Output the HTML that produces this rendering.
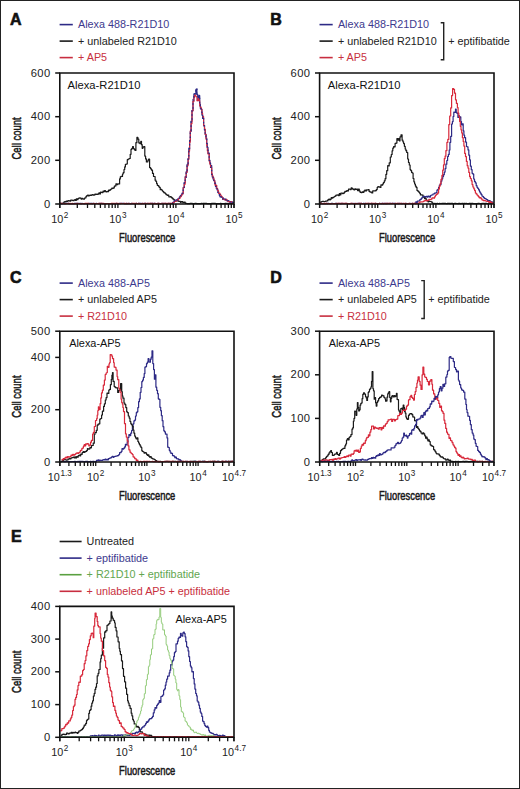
<!DOCTYPE html>
<html><head><meta charset="utf-8"><title>Figure</title><style>
html,body{margin:0;padding:0;background:#fff;width:520px;height:789px;overflow:hidden;}
svg{display:block;}
text{font-family:"Liberation Sans",sans-serif;}
</style></head><body>
<svg width="520" height="789" viewBox="0 0 520 789">
<rect x="0.5" y="0.5" width="519" height="788" fill="#fff" stroke="#222" stroke-width="1"/>
<path d="M60.0,203.4H60.8V203.4H61.5V203.6H62.3V203.3H63.0V203.5H63.8V202.1H64.6V201.6H65.3V201.9H66.1V201.2H66.9V201.4H67.6V200.8H68.4V200.6H69.2V200.9H70.0V201.2H70.7V200.1H71.5V200.0H72.3V200.4H73.1V200.7H73.9V200.1H74.7V199.7H75.5V200.4H76.3V198.8H77.1V199.7H77.9V198.6H78.7V198.1H79.5V197.8H80.3V198.2H81.1V199.1H82.0V198.3H82.8V199.0H83.6V199.2H84.4V198.1H85.2V197.8H86.0V196.3H86.8V195.6H87.6V195.2H88.4V195.9H89.2V195.3H90.0V195.0H90.8V195.3H91.6V194.9H92.4V194.5H93.2V195.2H94.1V194.9H94.9V194.0H95.7V194.4H96.5V194.1H97.3V194.5H98.1V193.9H98.9V192.9H99.7V193.9H100.5V192.0H101.3V192.3H102.2V192.6H103.0V191.2H103.8V191.6H104.6V190.6H105.4V191.7H106.2V191.8H107.0V191.3H107.8V191.7H108.6V190.1H109.4V190.3H110.2V189.6H111.0V189.0H111.8V188.2H112.6V188.3H113.4V187.9H114.3V186.2H115.1V185.9H115.9V183.9H116.8V184.7H117.7V183.9H118.6V184.0H119.6V178.9H120.3V176.8H121.0V176.4H121.8V176.4H122.5V174.0H123.2V172.7H124.0V169.5H124.7V166.9H125.4V164.3H126.3V164.0H127.3V159.7H128.2V159.0H129.2V158.5H130.2V154.3H131.0V149.4H131.8V148.4H132.6V146.5H133.4V148.6H134.2V149.3H135.0V150.4H135.9V142.7H136.9V137.4H137.9V139.1H138.8V142.9H139.8V143.6H140.8V141.3H141.5V144.7H142.2V148.3H142.9V147.1H143.7V146.7H144.8V156.1H145.6V158.9H146.4V162.0H147.1V161.8H147.9V160.1H148.6V159.2H149.6V167.6H150.6V168.8H151.5V170.2H152.5V173.4H153.5V176.5H154.3V176.5H155.1V180.2H155.9V181.5H156.6V183.6H157.3V185.3H158.0V185.6H158.8V186.8H159.5V187.4H160.2V189.7H160.9V189.3H161.6V190.0H162.4V191.0H163.1V191.7H163.8V192.7H164.6V192.9H165.3V193.6H166.0V194.6H166.7V194.8H167.4V195.5H168.1V195.2H168.8V196.8H169.5V196.9H170.2V196.6H171.0V197.2H171.7V197.9H172.7V198.9H173.7V199.5H174.4V200.7H175.1V201.1H175.8V200.7H176.5V201.0H177.3V200.7H178.1V200.9H178.8V201.4H179.6V201.4H180.4V202.3H181.2V201.6H182.0V201.6H182.8V202.7H183.6V202.3H184.4V202.0H185.2V203.5H186.0V203.3H186.8V203.5H187.6V203.7H188.4V203.6H189.2V203.6H190.0V203.4H190.8V203.4H191.6V203.4H192.4V203.6H193.2V203.5H194.0V203.6H194.8V203.4H195.6V203.4H196.4V203.6H197.2V203.7H198.0V203.6H198.8V203.6H199.6V203.6H200.4V203.6H201.1V203.4H201.9V203.5H202.7V203.4H203.5V203.3H204.3V203.3H205.1V203.4H205.9V203.4H206.7V203.6H207.5V203.7H208.3V203.5H209.1V203.7H209.9V203.7H210.7V203.7H211.5V203.4H212.3V203.4H213.1V203.4H213.9V203.4H214.7V203.4H215.5V203.5H216.3V203.7H217.1V203.6H217.9V203.5H218.7V203.6H219.5V203.6H220.3V203.3H221.1V203.6H221.9V203.7H222.6V203.6H223.4V203.6H224.2V203.5H225.0V203.4H225.8V203.6H226.6V203.4H227.4V203.6H228.2V203.7H229.0V203.5H229.8V203.5H230.6V203.7H231.4V203.6H232.2V203.4H233.0V203.4" fill="none" stroke="#1a1a1a" stroke-width="1.20" stroke-linejoin="round"/>
<path d="M60.0,203.4H60.8V203.7H61.6V203.6H62.4V203.4H63.2V203.6H64.0V203.7H64.8V203.6H65.6V203.4H66.4V203.5H67.2V203.4H68.0V203.3H68.8V203.7H69.6V203.6H70.4V203.5H71.2V203.7H72.0V203.5H72.8V203.6H73.6V203.6H74.4V203.4H75.2V203.4H76.0V203.4H76.8V203.4H77.6V203.5H78.4V203.4H79.2V203.5H80.0V203.4H80.8V203.7H81.6V203.4H82.4V203.5H83.2V203.5H84.0V203.7H84.8V203.5H85.6V203.7H86.4V203.5H87.2V203.5H88.0V203.5H88.8V203.3H89.6V203.5H90.4V203.4H91.2V203.3H92.0V203.6H92.8V203.4H93.6V203.5H94.4V203.6H95.2V203.5H96.0V203.4H96.8V203.5H97.6V203.5H98.4V203.6H99.2V203.3H100.0V203.5H100.8V203.4H101.6V203.4H102.4V203.6H103.2V203.5H104.0V203.5H104.8V203.6H105.6V203.7H106.4V203.5H107.2V203.5H108.0V203.5H108.8V203.5H109.6V203.6H110.4V203.5H111.2V203.5H112.0V203.5H112.8V203.7H113.6V203.6H114.4V203.7H115.2V203.7H116.0V203.4H116.8V203.5H117.6V203.7H118.4V203.6H119.2V203.4H120.0V203.3H120.8V203.5H121.6V203.3H122.4V203.4H123.2V203.3H124.0V203.6H124.8V203.6H125.6V203.7H126.4V203.4H127.2V203.6H128.0V203.6H128.8V203.4H129.6V203.7H130.4V203.7H131.2V203.4H132.0V203.7H132.8V203.5H133.6V203.5H134.4V203.7H135.2V203.6H136.0V203.4H136.8V203.5H137.6V203.5H138.4V203.4H139.2V203.4H140.0V203.4H140.8V203.6H141.6V203.3H142.4V203.5H143.2V203.5H144.0V203.3H144.8V203.4H145.6V203.5H146.4V203.5H147.2V203.3H148.0V203.7H148.8V203.6H149.6V203.7H150.4V203.3H151.2V203.4H152.0V203.3H152.8V203.6H153.6V203.4H154.4V203.4H155.2V203.5H156.0V203.7H156.8V203.6H157.6V203.4H158.4V203.4H159.2V203.7H160.0V203.5H160.8V203.6H161.6V203.3H162.4V203.3H163.2V203.6H164.0V203.5H164.8V203.3H165.6V203.7H166.4V203.6H167.2V203.6H168.0V203.3H168.8V203.6H169.6V203.3H170.4V203.6H171.2V203.5H172.0V203.4H172.8V202.4H173.7V202.0H174.5V200.8H175.3V200.2H176.1V200.3H176.9V199.5H177.7V198.9H178.5V198.5H179.3V197.2H180.0V196.2H180.8V195.3H181.5V194.1H182.3V193.8H183.2V187.6H184.2V182.7H185.2V176.6H186.2V171.7H187.1V164.4H188.1V158.8H188.8V148.2H189.6V140.8H190.3V131.4H191.1V121.2H192.0V110.7H193.0V101.0H193.9V93.9H194.9V93.9H195.9V89.4H196.9V94.5H197.8V100.6H198.5V97.0H199.2V95.5H199.7V104.0H200.4V108.5H201.2V109.3H201.9V115.1H202.6V118.4H203.6V125.8H204.5V129.7H205.2V134.3H206.0V138.1H206.7V143.7H207.3V147.4H208.0V153.4H209.2V160.2H209.8V162.9H210.5V165.6H211.7V174.4H212.3V177.0H213.0V178.9H213.8V180.5H214.7V182.9H215.5V185.5H216.3V188.4H217.2V189.9H218.0V192.6H218.7V193.4H219.4V195.8H220.1V196.9H220.9V197.0H221.8V197.4H222.6V199.3H223.4V198.8H224.3V199.2H225.2V199.2H226.0V200.1H226.8V200.7H227.7V201.1H228.5V201.1H229.3V201.9H230.0V201.5H230.8V201.9H231.5V201.8H232.3V202.3H233.0V203.3" fill="none" stroke="#2d2a86" stroke-width="1.20" stroke-linejoin="round"/>
<path d="M60.0,203.3H60.8V203.4H61.6V203.4H62.4V203.5H63.2V203.5H64.0V203.6H64.8V203.6H65.6V203.6H66.4V203.7H67.2V203.5H68.0V203.4H68.8V203.7H69.6V203.4H70.4V203.6H71.2V203.6H72.0V203.3H72.8V203.6H73.6V203.7H74.4V203.6H75.2V203.6H76.0V203.6H76.8V203.4H77.6V203.5H78.4V203.5H79.2V203.6H80.0V203.6H80.8V203.6H81.6V203.5H82.4V203.7H83.2V203.6H84.0V203.6H84.8V203.4H85.6V203.3H86.4V203.4H87.2V203.4H88.0V203.3H88.8V203.6H89.6V203.5H90.4V203.6H91.2V203.6H92.0V203.6H92.8V203.5H93.6V203.3H94.4V203.6H95.2V203.6H96.0V203.5H96.8V203.5H97.6V203.6H98.4V203.3H99.2V203.6H100.0V203.4H100.8V203.3H101.6V203.4H102.4V203.6H103.2V203.4H104.0V203.6H104.8V203.7H105.6V203.5H106.4V203.5H107.2V203.5H108.0V203.6H108.8V203.6H109.6V203.5H110.4V203.6H111.2V203.3H112.0V203.4H112.8V203.4H113.6V203.6H114.4V203.4H115.2V203.5H116.0V203.3H116.8V203.3H117.6V203.4H118.4V203.6H119.2V203.6H120.0V203.6H120.8V203.4H121.6V203.5H122.4V203.5H123.2V203.5H124.0V203.3H124.8V203.7H125.6V203.4H126.4V203.7H127.2V203.7H128.0V203.3H128.8V203.5H129.6V203.6H130.4V203.7H131.2V203.5H132.0V203.4H132.8V203.4H133.6V203.7H134.4V203.4H135.2V203.5H136.0V203.4H136.8V203.5H137.6V203.7H138.4V203.4H139.2V203.6H140.0V203.5H140.8V203.7H141.6V203.6H142.4V203.4H143.2V203.7H144.0V203.5H144.8V203.3H145.6V203.3H146.4V203.5H147.2V203.5H148.0V203.4H148.8V203.4H149.6V203.4H150.4V203.4H151.2V203.6H152.0V203.3H152.8V203.6H153.6V203.6H154.4V203.3H155.2V203.7H156.0V203.6H156.8V203.7H157.6V203.4H158.4V203.4H159.2V203.5H160.0V203.7H160.8V203.5H161.6V203.4H162.4V203.5H163.2V203.4H164.0V203.3H164.8V203.3H165.6V203.6H166.4V203.4H167.2V203.7H168.0V203.4H168.8V203.4H169.6V203.5H170.4V203.4H171.2V203.4H172.0V203.7H172.8V202.8H173.7V202.0H174.5V201.4H175.3V201.3H176.1V201.0H176.9V200.1H177.7V199.9H178.5V198.6H179.3V198.4H180.0V196.9H180.8V196.3H181.5V195.0H182.3V193.2H183.2V187.5H184.2V184.2H185.2V177.0H186.2V172.5H187.1V165.8H188.1V159.4H188.8V151.0H189.6V142.2H190.3V130.8H191.1V123.6H192.0V110.7H193.0V101.2H193.9V97.1H194.6V94.9H195.3V95.7H196.0V96.8H196.9V100.8H197.8V100.3H198.5V98.5H199.2V100.6H199.7V106.0H200.4V107.0H201.2V109.1H201.9V113.1H202.6V116.6H203.6V125.2H204.5V129.0H205.2V134.4H206.0V139.3H206.7V145.7H207.3V150.7H208.0V154.0H209.2V161.1H209.8V164.1H210.5V167.4H211.7V173.5H212.3V175.9H213.0V177.7H213.9V180.8H214.9V184.9H215.9V185.4H216.8V188.6H217.7V190.9H218.6V193.4H219.3V193.3H220.1V194.6H220.8V195.7H221.6V196.8H222.4V197.7H223.2V199.3H224.0V199.5H224.8V200.0H225.7V199.3H226.5V199.8H227.3V201.0H228.2V201.6H229.0V201.5H229.8V202.0H230.6V201.5H231.4V202.1H232.2V202.8H233.0V203.6" fill="none" stroke="#d8283a" stroke-width="1.10" stroke-linejoin="round"/>
<path d="M172.0,203.6H172.8V202.9H173.7V201.2H174.5V200.6H175.3V200.2H176.1V200.3H176.9V200.1H177.7V200.0H178.5V199.3H179.3V198.1H180.0V197.1H180.8V195.5H181.5V194.5H182.3V192.5H183.2V188.6H184.2V182.1H185.2V178.5H186.2V172.5H187.1V165.3H188.1V158.5H188.8V149.0H189.6V140.5H190.3V132.0H191.1V120.9H192.0V109.1H193.0V99.4H193.9V95.8H194.9V92.2H195.9V88.6H196.9V94.9H197.8V97.3H198.5V96.6H199.2V95.3H199.7V105.0H200.4V107.1H201.2V111.4H201.9V113.7H202.6V116.5H203.6V124.3H204.5V131.9H205.2V135.7H206.0V139.0H206.7V143.3H207.3V148.8H208.0V153.2H209.2V160.7H209.8V163.1H210.5V167.3H211.7V174.6H212.3V175.3H213.0V177.3H213.8V180.6H214.7V183.3H215.5V186.4H216.3V187.9H217.2V191.2H218.0V193.1H218.7V193.8H219.4V194.5H220.1V196.9H220.9V196.6H221.8V198.3H222.6V198.2H223.4V198.6H224.3V199.8H225.2V199.6H226.0V200.9H226.8V200.7H227.7V200.7H228.5V201.2H229.3V201.8H230.0V202.2H230.8V202.6H231.5V201.9H232.3V202.3H233.0V203.4" fill="none" stroke="#2d2a86" stroke-width="1.20" stroke-linejoin="round" stroke-dasharray="1.6 2.4"/>
<path d="M59.8,73.0 H234.0 V204.0 H59.8 Z" fill="none" stroke="#111" stroke-width="1.6"/>
<line x1="55.2" y1="204.0" x2="59.8" y2="204.0" stroke="#111" stroke-width="1.5"/>
<text x="50.6" y="207.5" font-size="11.2" text-anchor="end" letter-spacing="0.4" fill="#222">0</text>
<line x1="55.2" y1="160.3" x2="59.8" y2="160.3" stroke="#111" stroke-width="1.5"/>
<text x="50.6" y="163.8" font-size="11.2" text-anchor="end" letter-spacing="0.4" fill="#222">200</text>
<line x1="55.2" y1="116.7" x2="59.8" y2="116.7" stroke="#111" stroke-width="1.5"/>
<text x="50.6" y="120.2" font-size="11.2" text-anchor="end" letter-spacing="0.4" fill="#222">400</text>
<line x1="55.2" y1="73.0" x2="59.8" y2="73.0" stroke="#111" stroke-width="1.5"/>
<text x="50.6" y="76.5" font-size="11.2" text-anchor="end" letter-spacing="0.4" fill="#222">600</text>
<line x1="59.8" y1="204.0" x2="59.8" y2="208.0" stroke="#111" stroke-width="1.3"/>
<line x1="77.3" y1="204.0" x2="77.3" y2="208.0" stroke="#111" stroke-width="1.3"/>
<line x1="87.5" y1="204.0" x2="87.5" y2="208.0" stroke="#111" stroke-width="1.3"/>
<line x1="94.8" y1="204.0" x2="94.8" y2="208.0" stroke="#111" stroke-width="1.3"/>
<line x1="100.4" y1="204.0" x2="100.4" y2="208.0" stroke="#111" stroke-width="1.3"/>
<line x1="105.0" y1="204.0" x2="105.0" y2="208.0" stroke="#111" stroke-width="1.3"/>
<line x1="108.9" y1="204.0" x2="108.9" y2="208.0" stroke="#111" stroke-width="1.3"/>
<line x1="112.2" y1="204.0" x2="112.2" y2="208.0" stroke="#111" stroke-width="1.3"/>
<line x1="115.2" y1="204.0" x2="115.2" y2="208.0" stroke="#111" stroke-width="1.3"/>
<line x1="117.9" y1="204.0" x2="117.9" y2="208.0" stroke="#111" stroke-width="1.3"/>
<line x1="135.3" y1="204.0" x2="135.3" y2="208.0" stroke="#111" stroke-width="1.3"/>
<line x1="145.6" y1="204.0" x2="145.6" y2="208.0" stroke="#111" stroke-width="1.3"/>
<line x1="152.8" y1="204.0" x2="152.8" y2="208.0" stroke="#111" stroke-width="1.3"/>
<line x1="158.5" y1="204.0" x2="158.5" y2="208.0" stroke="#111" stroke-width="1.3"/>
<line x1="163.1" y1="204.0" x2="163.1" y2="208.0" stroke="#111" stroke-width="1.3"/>
<line x1="166.9" y1="204.0" x2="166.9" y2="208.0" stroke="#111" stroke-width="1.3"/>
<line x1="170.3" y1="204.0" x2="170.3" y2="208.0" stroke="#111" stroke-width="1.3"/>
<line x1="173.3" y1="204.0" x2="173.3" y2="208.0" stroke="#111" stroke-width="1.3"/>
<line x1="175.9" y1="204.0" x2="175.9" y2="208.0" stroke="#111" stroke-width="1.3"/>
<line x1="193.4" y1="204.0" x2="193.4" y2="208.0" stroke="#111" stroke-width="1.3"/>
<line x1="203.6" y1="204.0" x2="203.6" y2="208.0" stroke="#111" stroke-width="1.3"/>
<line x1="210.9" y1="204.0" x2="210.9" y2="208.0" stroke="#111" stroke-width="1.3"/>
<line x1="216.5" y1="204.0" x2="216.5" y2="208.0" stroke="#111" stroke-width="1.3"/>
<line x1="221.1" y1="204.0" x2="221.1" y2="208.0" stroke="#111" stroke-width="1.3"/>
<line x1="225.0" y1="204.0" x2="225.0" y2="208.0" stroke="#111" stroke-width="1.3"/>
<line x1="228.4" y1="204.0" x2="228.4" y2="208.0" stroke="#111" stroke-width="1.3"/>
<line x1="231.3" y1="204.0" x2="231.3" y2="208.0" stroke="#111" stroke-width="1.3"/>
<line x1="234.0" y1="204.0" x2="234.0" y2="208.0" stroke="#111" stroke-width="1.3"/>
<line x1="59.8" y1="204.0" x2="59.8" y2="208.0" stroke="#111" stroke-width="1.3"/>
<line x1="234.0" y1="204.0" x2="234.0" y2="208.0" stroke="#111" stroke-width="1.3"/>
<text x="59.8" y="222.5" font-size="10.8" text-anchor="middle" fill="#222">10<tspan dx="0.6" dy="-4.4" font-size="8.2">2</tspan></text>
<text x="117.9" y="222.5" font-size="10.8" text-anchor="middle" fill="#222">10<tspan dx="0.6" dy="-4.4" font-size="8.2">3</tspan></text>
<text x="175.9" y="222.5" font-size="10.8" text-anchor="middle" fill="#222">10<tspan dx="0.6" dy="-4.4" font-size="8.2">4</tspan></text>
<text x="234.0" y="222.5" font-size="10.8" text-anchor="middle" fill="#222">10<tspan dx="0.6" dy="-4.4" font-size="8.2">5</tspan></text>
<text transform="translate(147.2,242.1) scale(0.71,1)" font-size="13.2" text-anchor="middle" fill="#1a1a1a" stroke="#1a1a1a" stroke-width="0.55">Fluorescence</text>
<text transform="translate(20.9,138.5) rotate(-90) scale(0.72,1)" font-size="13.2" text-anchor="middle" fill="#1a1a1a" stroke="#1a1a1a" stroke-width="0.55">Cell count</text>
<path d="M320.0,203.7H320.7V201.9H321.5V201.5H322.3V201.3H323.1V201.4H323.9V201.7H324.7V201.5H325.5V201.0H326.3V201.1H327.2V200.7H328.0V199.6H328.8V199.2H329.6V199.8H330.4V199.2H331.2V197.7H332.0V198.2H332.8V197.4H333.6V197.0H334.4V196.5H335.2V195.9H336.0V195.2H336.8V195.2H337.6V194.9H338.4V195.6H339.3V193.7H340.1V194.8H340.9V193.1H341.7V193.1H342.5V193.6H343.3V193.4H344.1V192.4H344.9V191.4H345.8V191.5H346.7V190.6H347.6V191.0H348.5V189.1H349.4V189.0H350.3V189.6H351.2V187.8H352.1V188.6H353.0V189.4H353.9V189.8H354.8V188.8H355.7V189.3H356.6V189.1H357.5V190.6H358.4V189.0H359.3V191.1H360.2V192.5H361.1V192.6H362.0V191.8H362.9V192.4H363.8V191.1H364.7V190.2H365.6V190.9H366.5V189.8H367.4V190.0H368.2V189.7H369.1V191.4H370.0V192.1H370.9V192.0H371.8V193.0H372.7V190.9H373.6V190.8H374.5V190.9H375.4V190.7H376.3V189.6H377.2V187.3H377.9V186.7H378.6V186.9H379.3V186.8H380.0V187.5H380.9V184.9H381.7V185.2H382.6V184.0H383.4V182.6H384.3V180.8H385.1V178.7H385.9V174.3H386.7V170.7H387.7V165.7H388.4V165.9H389.2V162.8H390.3V157.0H391.3V154.5H392.1V150.8H392.8V148.1H393.6V146.5H394.4V146.8H395.1V143.4H395.9V143.1H396.9V138.7H397.7V140.1H398.5V138.6H399.5V141.0H400.0V136.8H401.0V134.8H402.1V140.2H402.9V141.8H403.6V143.6H404.4V146.3H405.2V149.0H405.9V150.7H406.7V152.5H407.7V159.0H408.5V162.5H409.3V165.0H410.1V169.6H410.8V170.6H411.6V172.4H412.3V173.0H413.1V178.5H413.9V181.8H414.6V184.0H415.4V186.1H416.2V187.4H417.0V190.5H418.0V191.4H419.0V192.5H419.7V193.3H420.4V195.0H421.1V194.8H422.1V195.1H423.1V196.9H423.8V197.3H424.5V198.6H425.2V197.9H425.9V199.2H426.6V200.3H427.3V201.0H428.0V201.8H428.8V201.0H429.6V201.5H430.4V201.5H431.2V201.8H432.1V202.8H432.9V203.5H433.7V203.7H434.5V203.4H435.3V203.6H436.1V203.5H436.9V203.4H437.7V203.6H438.5V203.7H439.3V203.3H440.1V203.5H440.9V203.5H441.7V203.4H442.5V203.4H443.3V203.4H444.1V203.4H444.9V203.4H445.7V203.5H446.5V203.6H447.3V203.4H448.1V203.3H448.9V203.4H449.7V203.6H450.5V203.4H451.3V203.4H452.1V203.4H452.9V203.6H453.7V203.5H454.5V203.3H455.3V203.3H456.1V203.5H456.9V203.5H457.7V203.6H458.5V203.3H459.3V203.4H460.1V203.6H460.9V203.5H461.7V203.4H462.5V203.4H463.3V203.7H464.2V203.4H465.0V203.5H465.8V203.4H466.6V203.5H467.4V203.6H468.2V203.7H469.0V203.4H469.8V203.4H470.6V203.6H471.4V203.4H472.2V203.3H473.0V203.7H473.8V203.5H474.6V203.6H475.4V203.5H476.2V203.7H477.0V203.5H477.8V203.4H478.6V203.3H479.4V203.5H480.2V203.6H481.0V203.7H481.8V203.3H482.6V203.5H483.4V203.4H484.2V203.5H485.0V203.4H485.8V203.4H486.6V203.5H487.4V203.7H488.2V203.3H489.0V203.5H489.8V203.6H490.6V203.7H491.4V203.4H492.2V203.4H493.0V203.7" fill="none" stroke="#1a1a1a" stroke-width="1.20" stroke-linejoin="round"/>
<path d="M320.0,203.7H320.8V203.5H321.6V203.3H322.4V203.7H323.2V203.5H324.0V203.7H324.8V203.5H325.6V203.6H326.4V203.4H327.2V203.6H328.0V203.4H328.8V203.5H329.6V203.6H330.4V203.6H331.2V203.4H332.0V203.4H332.8V203.5H333.6V203.5H334.4V203.5H335.2V203.3H336.0V203.4H336.8V203.6H337.6V203.7H338.4V203.3H339.2V203.5H340.0V203.6H340.8V203.3H341.6V203.6H342.4V203.3H343.2V203.5H344.0V203.5H344.8V203.6H345.6V203.4H346.4V203.5H347.2V203.5H348.0V203.5H348.8V203.6H349.6V203.5H350.4V203.5H351.2V203.3H352.0V203.5H352.8V203.5H353.6V203.4H354.4V203.6H355.2V203.6H356.0V203.5H356.8V203.4H357.6V203.5H358.4V203.3H359.2V203.4H360.0V203.5H360.8V203.3H361.6V203.5H362.4V203.5H363.2V203.3H364.0V203.6H364.8V203.3H365.6V203.6H366.4V203.6H367.2V203.5H368.0V203.3H368.8V203.5H369.6V203.5H370.4V203.7H371.2V203.4H372.0V203.6H372.8V203.7H373.6V203.6H374.4V203.6H375.2V203.4H376.0V203.7H376.8V203.5H377.6V203.7H378.4V203.7H379.2V203.4H380.0V203.6H380.8V203.7H381.6V203.3H382.4V203.4H383.2V203.6H384.0V203.4H384.8V203.7H385.6V203.4H386.4V203.6H387.2V203.4H388.0V203.5H388.8V203.7H389.6V203.4H390.4V203.4H391.2V203.5H392.0V203.4H392.8V203.3H393.6V203.4H394.4V203.4H395.2V203.7H396.0V203.6H396.8V203.7H397.6V203.4H398.4V203.6H399.2V203.3H400.0V203.5H400.8V203.6H401.6V203.4H402.4V203.6H403.2V203.5H404.0V203.5H404.8V203.7H405.6V203.3H406.4V203.7H407.2V203.6H408.0V203.5H408.8V203.6H409.6V203.4H410.4V203.7H411.2V203.5H412.0V203.4H412.8V203.6H413.5V203.5H414.2V203.4H415.0V203.6H415.8V201.8H416.5V202.5H417.3V201.2H418.1V201.0H419.0V200.9H419.8V199.7H420.6V199.2H421.5V198.1H422.3V197.0H423.1V196.5H423.9V196.4H424.7V197.0H425.5V196.5H426.3V196.4H427.1V197.2H428.0V196.1H428.8V196.3H429.6V197.1H430.4V195.6H431.2V195.0H432.1V195.0H432.9V194.0H433.7V193.8H434.5V193.0H435.3V193.1H436.1V192.5H436.9V190.1H437.8V189.3H438.6V187.4H439.4V185.0H440.2V184.7H441.0V181.1H441.9V178.8H442.7V176.6H443.5V174.7H444.3V172.1H445.1V168.6H445.9V164.2H446.8V160.5H447.6V156.5H448.4V154.4H449.2V150.0H449.9V142.3H450.7V136.3H451.6V124.0H452.4V121.6H453.1V116.5H453.8V112.2H454.5V112.4H455.5V109.0H456.2V112.4H456.9V113.3H457.9V117.5H458.6V115.7H459.3V117.6H460.1V116.9H460.8V121.5H461.5V125.0H462.2V123.8H463.2V130.8H463.9V135.2H464.6V137.7H465.6V142.1H466.5V146.5H467.2V146.8H468.0V149.9H468.8V155.2H469.6V159.8H470.4V166.2H471.3V169.7H472.1V173.3H472.9V174.1H473.7V179.0H474.5V181.4H475.3V182.9H476.2V185.7H477.0V187.3H477.8V188.5H478.6V189.9H479.5V191.8H480.3V193.1H481.1V194.4H481.9V196.0H482.8V196.7H483.6V197.7H484.4V198.3H485.2V198.5H486.0V199.3H486.8V199.5H487.6V200.4H488.4V200.5H489.3V200.6H490.1V201.4H490.9V202.2H491.7V201.8H492.4V202.7H493.0V203.3" fill="none" stroke="#2d2a86" stroke-width="1.20" stroke-linejoin="round"/>
<path d="M320.0,203.4H320.8V203.4H321.6V203.6H322.4V203.7H323.2V203.6H324.0V203.4H324.8V203.7H325.6V203.4H326.4V203.4H327.2V203.7H328.0V203.6H328.8V203.6H329.6V203.6H330.4V203.7H331.2V203.5H332.0V203.6H332.8V203.6H333.6V203.6H334.4V203.5H335.2V203.6H336.0V203.5H336.8V203.4H337.6V203.4H338.4V203.5H339.2V203.3H340.0V203.7H340.8V203.4H341.6V203.3H342.4V203.3H343.2V203.7H344.0V203.4H344.8V203.4H345.6V203.3H346.4V203.3H347.2V203.6H348.0V203.6H348.8V203.6H349.6V203.6H350.4V203.3H351.2V203.5H352.0V203.4H352.8V203.6H353.6V203.6H354.4V203.7H355.2V203.3H356.0V203.6H356.8V203.7H357.6V203.7H358.4V203.3H359.2V203.4H360.0V203.3H360.8V203.3H361.6V203.6H362.4V203.6H363.2V203.6H364.0V203.6H364.8V203.6H365.6V203.4H366.4V203.3H367.2V203.3H368.0V203.6H368.8V203.4H369.6V203.4H370.4V203.5H371.2V203.3H372.0V203.4H372.8V203.4H373.6V203.6H374.4V203.4H375.2V203.4H376.0V203.7H376.8V203.5H377.6V203.6H378.4V203.5H379.2V203.3H380.0V203.5H380.8V203.5H381.6V203.6H382.4V203.4H383.2V203.6H384.0V203.5H384.8V203.4H385.6V203.6H386.4V203.3H387.2V203.6H388.0V203.4H388.8V203.3H389.6V203.4H390.4V203.6H391.2V203.7H392.0V203.3H392.8V203.5H393.6V203.5H394.4V203.6H395.2V203.4H396.0V203.5H396.8V203.4H397.6V203.6H398.4V203.4H399.2V203.7H400.0V203.4H400.8V203.4H401.6V203.6H402.4V203.5H403.2V203.3H404.0V203.6H404.8V203.3H405.6V203.6H406.4V203.6H407.2V203.6H408.0V203.6H408.8V203.4H409.6V203.5H410.4V203.5H411.2V203.7H412.0V203.3H412.8V203.7H413.5V203.3H414.2V203.4H415.0V203.4H415.8V203.7H416.5V203.5H417.3V203.5H418.1V203.7H419.0V202.0H419.8V202.1H420.6V201.9H421.5V202.0H422.3V201.8H423.1V201.5H423.9V200.9H424.7V200.7H425.5V200.2H426.4V200.9H427.2V200.5H428.0V200.4H428.8V199.4H429.6V199.5H430.4V199.6H431.2V198.9H432.1V197.8H432.9V197.9H433.7V198.2H434.5V196.8H435.3V195.5H436.1V194.4H437.0V193.9H437.8V192.9H438.6V188.9H439.4V186.1H440.2V183.5H441.0V179.3H441.9V175.4H442.7V170.1H443.5V164.8H444.3V158.6H445.1V156.2H445.9V150.6H446.9V142.4H447.8V139.4H448.8V124.6H449.7V116.0H450.7V107.9H451.6V95.6H452.6V88.6H453.6V89.3H454.5V93.2H455.5V99.8H456.4V103.4H457.4V107.6H458.1V113.2H458.8V116.6H459.6V121.4H460.3V126.3H461.0V129.8H461.7V132.9H462.4V137.7H463.2V141.4H463.9V146.1H464.7V153.4H465.5V156.6H466.4V161.4H467.2V165.7H468.0V168.1H468.8V172.4H469.6V176.6H470.4V178.5H471.3V180.8H472.1V184.6H472.9V187.0H473.8V188.8H474.6V190.6H475.4V193.0H476.2V193.9H477.0V195.0H477.8V195.9H478.6V196.9H479.4V197.9H480.2V197.7H481.1V198.7H481.9V199.8H482.7V200.2H483.5V200.7H484.3V200.4H485.1V200.8H486.0V201.0H486.8V201.4H487.6V201.4H488.5V201.9H489.3V202.4H490.1V201.7H490.8V202.4H491.6V202.7H492.3V203.5H493.0V203.5" fill="none" stroke="#d8283a" stroke-width="1.20" stroke-linejoin="round"/>
<path d="M319.6,73.0 H494.0 V204.0 H319.6 Z" fill="none" stroke="#111" stroke-width="1.6"/>
<line x1="315.0" y1="204.0" x2="319.6" y2="204.0" stroke="#111" stroke-width="1.5"/>
<text x="310.4" y="207.5" font-size="11.2" text-anchor="end" letter-spacing="0.4" fill="#222">0</text>
<line x1="315.0" y1="160.3" x2="319.6" y2="160.3" stroke="#111" stroke-width="1.5"/>
<text x="310.4" y="163.8" font-size="11.2" text-anchor="end" letter-spacing="0.4" fill="#222">200</text>
<line x1="315.0" y1="116.7" x2="319.6" y2="116.7" stroke="#111" stroke-width="1.5"/>
<text x="310.4" y="120.2" font-size="11.2" text-anchor="end" letter-spacing="0.4" fill="#222">400</text>
<line x1="315.0" y1="73.0" x2="319.6" y2="73.0" stroke="#111" stroke-width="1.5"/>
<text x="310.4" y="76.5" font-size="11.2" text-anchor="end" letter-spacing="0.4" fill="#222">600</text>
<line x1="319.6" y1="204.0" x2="319.6" y2="208.0" stroke="#111" stroke-width="1.3"/>
<line x1="337.1" y1="204.0" x2="337.1" y2="208.0" stroke="#111" stroke-width="1.3"/>
<line x1="347.3" y1="204.0" x2="347.3" y2="208.0" stroke="#111" stroke-width="1.3"/>
<line x1="354.6" y1="204.0" x2="354.6" y2="208.0" stroke="#111" stroke-width="1.3"/>
<line x1="360.2" y1="204.0" x2="360.2" y2="208.0" stroke="#111" stroke-width="1.3"/>
<line x1="364.8" y1="204.0" x2="364.8" y2="208.0" stroke="#111" stroke-width="1.3"/>
<line x1="368.7" y1="204.0" x2="368.7" y2="208.0" stroke="#111" stroke-width="1.3"/>
<line x1="372.1" y1="204.0" x2="372.1" y2="208.0" stroke="#111" stroke-width="1.3"/>
<line x1="375.1" y1="204.0" x2="375.1" y2="208.0" stroke="#111" stroke-width="1.3"/>
<line x1="377.7" y1="204.0" x2="377.7" y2="208.0" stroke="#111" stroke-width="1.3"/>
<line x1="395.2" y1="204.0" x2="395.2" y2="208.0" stroke="#111" stroke-width="1.3"/>
<line x1="405.5" y1="204.0" x2="405.5" y2="208.0" stroke="#111" stroke-width="1.3"/>
<line x1="412.7" y1="204.0" x2="412.7" y2="208.0" stroke="#111" stroke-width="1.3"/>
<line x1="418.4" y1="204.0" x2="418.4" y2="208.0" stroke="#111" stroke-width="1.3"/>
<line x1="423.0" y1="204.0" x2="423.0" y2="208.0" stroke="#111" stroke-width="1.3"/>
<line x1="426.9" y1="204.0" x2="426.9" y2="208.0" stroke="#111" stroke-width="1.3"/>
<line x1="430.2" y1="204.0" x2="430.2" y2="208.0" stroke="#111" stroke-width="1.3"/>
<line x1="433.2" y1="204.0" x2="433.2" y2="208.0" stroke="#111" stroke-width="1.3"/>
<line x1="435.9" y1="204.0" x2="435.9" y2="208.0" stroke="#111" stroke-width="1.3"/>
<line x1="453.4" y1="204.0" x2="453.4" y2="208.0" stroke="#111" stroke-width="1.3"/>
<line x1="463.6" y1="204.0" x2="463.6" y2="208.0" stroke="#111" stroke-width="1.3"/>
<line x1="470.9" y1="204.0" x2="470.9" y2="208.0" stroke="#111" stroke-width="1.3"/>
<line x1="476.5" y1="204.0" x2="476.5" y2="208.0" stroke="#111" stroke-width="1.3"/>
<line x1="481.1" y1="204.0" x2="481.1" y2="208.0" stroke="#111" stroke-width="1.3"/>
<line x1="485.0" y1="204.0" x2="485.0" y2="208.0" stroke="#111" stroke-width="1.3"/>
<line x1="488.4" y1="204.0" x2="488.4" y2="208.0" stroke="#111" stroke-width="1.3"/>
<line x1="491.3" y1="204.0" x2="491.3" y2="208.0" stroke="#111" stroke-width="1.3"/>
<line x1="494.0" y1="204.0" x2="494.0" y2="208.0" stroke="#111" stroke-width="1.3"/>
<line x1="319.6" y1="204.0" x2="319.6" y2="208.0" stroke="#111" stroke-width="1.3"/>
<line x1="494.0" y1="204.0" x2="494.0" y2="208.0" stroke="#111" stroke-width="1.3"/>
<text x="319.6" y="222.5" font-size="10.8" text-anchor="middle" fill="#222">10<tspan dx="0.6" dy="-4.4" font-size="8.2">2</tspan></text>
<text x="377.7" y="222.5" font-size="10.8" text-anchor="middle" fill="#222">10<tspan dx="0.6" dy="-4.4" font-size="8.2">3</tspan></text>
<text x="435.9" y="222.5" font-size="10.8" text-anchor="middle" fill="#222">10<tspan dx="0.6" dy="-4.4" font-size="8.2">4</tspan></text>
<text x="494.0" y="222.5" font-size="10.8" text-anchor="middle" fill="#222">10<tspan dx="0.6" dy="-4.4" font-size="8.2">5</tspan></text>
<text transform="translate(407.1,242.1) scale(0.71,1)" font-size="13.2" text-anchor="middle" fill="#1a1a1a" stroke="#1a1a1a" stroke-width="0.55">Fluorescence</text>
<text transform="translate(280.7,138.5) rotate(-90) scale(0.72,1)" font-size="13.2" text-anchor="middle" fill="#1a1a1a" stroke="#1a1a1a" stroke-width="0.55">Cell count</text>
<path d="M60.5,461.7H61.3V461.3H62.1V461.5H63.0V461.4H63.8V461.6H64.6V461.7H65.4V461.5H66.3V461.3H67.1V461.5H67.9V461.5H68.7V461.6H69.5V461.5H70.4V461.6H71.2V461.6H72.0V461.5H72.8V461.5H73.7V461.7H74.5V461.4H75.3V461.6H76.1V461.5H76.9V461.6H77.7V461.3H78.4V461.7H79.2V461.4H80.0V461.3H80.8V461.4H81.6V461.5H82.4V461.3H83.2V461.5H83.9V461.5H84.7V461.6H85.5V461.4H86.3V461.4H87.1V461.4H87.9V461.6H88.7V461.7H89.5V461.5H90.2V461.4H91.0V461.6H91.8V461.5H92.6V461.4H93.4V461.4H94.1V461.6H94.9V461.6H95.7V461.6H96.4V460.3H97.2V460.4H98.0V459.9H98.7V460.7H99.5V460.0H100.3V460.3H101.0V460.4H101.8V460.4H102.6V459.9H103.5V459.6H104.3V459.8H105.1V459.2H105.9V460.0H106.8V459.3H107.6V459.8H108.4V458.7H109.1V458.5H109.9V457.9H110.7V457.8H111.4V457.0H112.2V456.4H113.1V457.3H114.0V456.5H114.8V456.3H115.7V456.2H116.5V456.1H117.2V455.7H118.0V455.6H118.8V454.5H119.6V452.7H120.4V452.6H121.2V451.3H122.0V448.5H122.9V449.1H123.7V448.2H124.6V446.9H125.4V444.4H126.3V445.0H127.2V441.8H128.0V437.5H128.9V434.7H129.8V435.6H130.7V433.2H131.6V430.5H132.4V426.9H133.1V423.8H133.9V420.9H134.7V420.1H135.5V416.0H136.3V412.7H137.1V411.7H137.8V407.6H138.6V401.7H139.4V398.9H140.2V392.3H141.0V387.5H141.8V381.6H142.6V380.1H143.4V377.4H144.2V373.6H144.9V367.1H145.7V366.7H146.5V363.7H147.3V362.2H148.1V358.7H148.9V362.0H149.7V362.2H150.4V359.2H151.2V357.2H152.0V350.8H152.8V363.6H153.6V369.6H154.4V379.2H155.2V374.8H155.9V387.2H156.7V390.3H157.5V393.7H158.3V398.8H159.1V399.4H159.9V407.3H160.7V410.7H161.4V415.7H162.2V420.7H163.0V426.7H163.8V430.8H164.6V431.8H165.4V434.1H166.2V434.0H167.0V437.9H167.7V447.2H168.5V447.5H169.3V450.3H170.1V452.0H170.9V453.5H171.7V453.4H172.5V455.6H173.3V455.6H174.1V456.3H174.8V457.7H175.6V457.2H176.4V458.6H177.2V458.9H177.9V458.9H178.7V460.0H179.5V459.7H180.3V460.3H181.1V461.5H181.9V461.6H182.7V461.4H183.4V461.5H184.2V461.5H185.0V461.5H185.8V461.6H186.6V461.4H187.4V461.6H188.2V461.5H189.0V461.5H189.8V461.4H190.6V461.5H191.4V461.7H192.2V461.6H193.0V461.6H193.8V461.4H194.6V461.4H195.4V461.4H196.2V461.5H197.0V461.6H197.8V461.6H198.6V461.3H199.4V461.6H200.2V461.7H201.0V461.5H201.8V461.3H202.6V461.4H203.4V461.3H204.2V461.4H205.0V461.7H205.8V461.5H206.6V461.6H207.4V461.6H208.2V461.7H209.0V461.5H209.8V461.5H210.6V461.6H211.4V461.6H212.2V461.5H213.0V461.6H213.8V461.4H214.6V461.6H215.4V461.5H216.2V461.6H217.0V461.3H217.8V461.4H218.6V461.3H219.4V461.6H220.2V461.7H221.0V461.6H221.8V461.4H222.6V461.6H223.4V461.6H224.2V461.5H225.0V461.4H225.8V461.4H226.6V461.5H227.4V461.4H228.2V461.5H229.0V461.6H229.8V461.7H230.6V461.3H231.4V461.5H232.2V461.3H233.0V461.3" fill="none" stroke="#2d2a86" stroke-width="1.20" stroke-linejoin="round"/>
<path d="M60.6,461.6H61.4V461.5H62.2V460.8H63.1V460.1H63.9V459.4H64.7V459.7H65.5V459.8H66.4V460.1H67.2V460.0H68.0V459.2H68.7V458.9H69.5V458.3H70.3V458.8H71.0V458.0H71.8V457.7H72.6V457.3H73.4V457.1H74.2V457.9H74.9V456.9H75.7V458.0H76.5V456.5H77.3V457.2H78.2V455.7H79.1V455.0H79.9V455.8H80.7V454.2H81.4V454.3H82.2V452.5H83.1V451.7H84.0V452.4H84.8V451.7H85.7V451.4H86.5V450.6H87.4V448.7H88.2V449.2H89.1V448.8H89.9V447.5H90.6V447.8H91.4V445.6H92.3V445.5H93.2V443.2H94.3V434.5H94.9V432.7H95.5V432.7H96.3V430.3H97.2V425.2H98.1V424.2H98.9V423.8H99.8V419.1H100.7V418.5H101.6V415.0H102.4V411.2H103.6V406.4H104.4V403.8H105.3V400.0H106.1V397.6H107.0V393.2H107.9V393.5H108.8V390.0H109.6V389.4H110.4V384.7H111.3V379.3H111.9V375.1H112.5V372.6H113.1V381.4H114.2V386.5H115.1V387.4H116.0V388.0H116.8V387.9H117.7V392.5H118.6V390.5H119.4V390.1H120.6V383.5H121.7V391.5H122.3V395.9H122.9V398.2H124.0V403.1H124.9V404.6H125.8V407.6H126.7V411.8H127.5V412.6H128.3V416.0H129.2V418.1H130.0V421.5H130.8V423.8H131.6V424.8H132.4V426.6H133.2V430.0H133.9V433.1H134.7V436.1H135.5V437.8H136.3V439.0H137.1V437.9H137.9V441.5H138.6V443.0H139.4V444.7H140.2V446.1H141.0V447.5H141.8V450.8H142.6V451.5H143.4V452.0H144.2V453.2H145.0V452.7H145.8V452.9H146.5V454.3H147.3V455.3H148.1V454.9H148.9V456.4H149.6V457.2H150.4V456.7H151.2V457.9H152.0V458.5H152.8V458.9H153.6V459.1H154.4V459.5H155.2V460.3H155.9V460.6H156.7V461.5H157.5V461.3H158.3V461.6H159.1V461.6H159.9V461.4H160.7V461.5H161.5V461.7H162.3V461.7H163.1V461.5H163.9V461.5H164.7V461.5H165.5V461.4H166.3V461.4H167.1V461.4H167.9V461.6H168.7V461.4H169.5V461.5H170.3V461.5H171.2V461.5H172.0V461.4H172.8V461.3H173.6V461.7H174.4V461.4H175.2V461.3H176.0V461.6H176.8V461.6H177.6V461.4H178.4V461.5H179.2V461.4H180.0V461.5H180.8V461.3H181.6V461.3H182.4V461.7H183.2V461.6H184.0V461.5H184.8V461.5H185.6V461.4H186.4V461.6H187.2V461.5H188.0V461.7H188.8V461.6H189.6V461.6H190.4V461.7H191.2V461.4H192.0V461.3H192.8V461.4H193.6V461.4H194.4V461.3H195.2V461.3H196.1V461.5H196.9V461.6H197.7V461.5H198.5V461.7H199.3V461.7H200.1V461.3H200.9V461.5H201.7V461.5H202.5V461.3H203.3V461.7H204.1V461.4H204.9V461.5H205.7V461.6H206.5V461.7H207.3V461.6H208.1V461.5H208.9V461.5H209.7V461.4H210.5V461.7H211.3V461.7H212.1V461.4H212.9V461.3H213.7V461.4H214.5V461.4H215.3V461.7H216.1V461.7H216.9V461.6H217.7V461.3H218.5V461.6H219.3V461.6H220.1V461.6H221.0V461.7H221.8V461.3H222.6V461.4H223.4V461.6H224.2V461.7H225.0V461.6H225.8V461.4H226.6V461.5H227.4V461.6H228.2V461.3H229.0V461.4H229.8V461.4H230.6V461.3H231.4V461.5H232.2V461.4H233.0V461.4" fill="none" stroke="#1a1a1a" stroke-width="1.20" stroke-linejoin="round"/>
<path d="M61.5,459.6H62.4V459.8H63.2V458.5H64.1V458.9H64.9V457.8H65.8V457.1H66.7V458.0H67.5V456.5H68.4V457.2H69.2V456.8H70.1V456.6H71.0V455.1H71.8V455.3H72.7V454.3H73.5V455.2H74.4V454.7H75.3V453.8H76.2V453.2H77.0V452.8H77.9V453.4H78.8V452.5H79.6V452.1H80.3V450.6H81.1V450.2H81.9V448.3H82.6V448.1H83.4V446.2H84.2V444.7H84.9V445.8H85.7V443.9H86.5V444.2H87.2V443.6H88.0V443.9H88.8V445.8H89.7V445.2H90.6V442.2H91.4V440.4H92.6V434.1H93.4V432.3H94.3V426.5H94.9V426.3H95.5V420.5H96.6V418.6H97.2V415.0H97.8V410.5H98.4V406.8H98.9V409.6H100.1V403.7H100.8V397.9H101.5V392.9H102.4V390.2H103.3V385.1H104.4V380.1H105.2V374.5H106.1V373.0H106.7V372.5H107.3V366.3H108.2V367.3H109.0V363.8H109.6V362.5H110.2V354.6H111.3V354.9H111.9V356.2H112.5V358.6H113.6V362.6H114.2V367.1H114.8V367.0H115.4V367.4H116.0V370.1H117.1V376.6H117.7V379.7H118.8V388.0H119.4V389.1H120.0V392.1H121.1V399.1H121.7V402.4H122.3V403.9H122.9V407.5H123.5V411.6H124.5V423.7H125.5V433.8H126.3V437.1H127.2V440.9H128.1V445.8H128.9V449.8H130.0V452.2H130.8V453.0H131.6V453.5H132.3V454.5H133.1V456.8H133.9V457.2H134.7V458.7H135.5V458.8H136.3V460.7H137.1V460.2H137.9V461.6H138.7V461.6H139.5V461.5H140.3V461.3H141.0V461.7H141.8V461.5H142.6V461.6H143.4V461.4H144.2V461.4H145.0V461.6H145.8V461.4H146.6V461.4H147.4V461.4H148.2V461.5H149.0V461.3H149.8V461.5H150.6V461.5H151.4V461.5H152.2V461.3H153.0V461.6H153.8V461.6H154.6V461.6H155.4V461.4H156.2V461.6H157.0V461.5H157.8V461.6H158.6V461.3H159.4V461.6H160.2V461.7H161.0V461.5H161.8V461.5H162.6V461.5H163.4V461.5H164.2V461.3H165.0V461.7H165.8V461.4H166.6V461.4H167.4V461.3H168.2V461.4H169.0V461.6H169.8V461.3H170.6V461.3H171.4V461.6H172.2V461.4H173.0V461.3H173.8V461.5H174.6V461.5H175.4V461.5H176.2V461.6H177.0V461.3H177.8V461.6H178.6V461.6H179.4V461.3H180.2V461.3H181.0V461.5H181.8V461.5H182.6V461.4H183.4V461.3H184.2V461.5H185.0V461.4H185.8V461.5H186.6V461.6H187.4V461.4H188.2V461.5H189.0V461.6H189.8V461.4H190.6V461.6H191.4V461.7H192.2V461.5H193.0V461.5H193.8V461.6H194.6V461.5H195.4V461.5H196.2V461.7H197.0V461.6H197.8V461.4H198.6V461.4H199.4V461.4H200.2V461.5H201.0V461.7H201.8V461.6H202.6V461.7H203.4V461.6H204.2V461.6H205.0V461.3H205.8V461.5H206.6V461.7H207.4V461.7H208.2V461.4H209.0V461.5H209.8V461.6H210.6V461.4H211.4V461.5H212.2V461.3H213.0V461.5H213.8V461.5H214.6V461.3H215.4V461.4H216.2V461.7H217.0V461.6H217.8V461.7H218.6V461.6H219.4V461.6H220.2V461.7H221.0V461.7H221.8V461.3H222.6V461.6H223.4V461.4H224.2V461.6H225.0V461.4H225.8V461.5H226.6V461.7H227.4V461.5H228.2V461.4H229.0V461.5H229.8V461.5H230.6V461.7H231.4V461.4H232.2V461.4H233.0V461.6" fill="none" stroke="#d8283a" stroke-width="1.20" stroke-linejoin="round"/>
<path d="M59.8,331.2 H234.0 V462.0 H59.8 Z" fill="none" stroke="#111" stroke-width="1.6"/>
<line x1="55.2" y1="462.0" x2="59.8" y2="462.0" stroke="#111" stroke-width="1.5"/>
<text x="50.6" y="465.5" font-size="11.2" text-anchor="end" letter-spacing="0.4" fill="#222">0</text>
<line x1="55.2" y1="409.7" x2="59.8" y2="409.7" stroke="#111" stroke-width="1.5"/>
<text x="50.6" y="413.2" font-size="11.2" text-anchor="end" letter-spacing="0.4" fill="#222">200</text>
<line x1="55.2" y1="357.4" x2="59.8" y2="357.4" stroke="#111" stroke-width="1.5"/>
<text x="50.6" y="360.9" font-size="11.2" text-anchor="end" letter-spacing="0.4" fill="#222">400</text>
<line x1="55.2" y1="331.2" x2="59.8" y2="331.2" stroke="#111" stroke-width="1.5"/>
<text x="50.6" y="334.7" font-size="11.2" text-anchor="end" letter-spacing="0.4" fill="#222">500</text>
<line x1="59.9" y1="462.0" x2="59.9" y2="466.0" stroke="#111" stroke-width="1.3"/>
<line x1="68.9" y1="462.0" x2="68.9" y2="466.0" stroke="#111" stroke-width="1.3"/>
<line x1="75.3" y1="462.0" x2="75.3" y2="466.0" stroke="#111" stroke-width="1.3"/>
<line x1="80.2" y1="462.0" x2="80.2" y2="466.0" stroke="#111" stroke-width="1.3"/>
<line x1="84.3" y1="462.0" x2="84.3" y2="466.0" stroke="#111" stroke-width="1.3"/>
<line x1="87.7" y1="462.0" x2="87.7" y2="466.0" stroke="#111" stroke-width="1.3"/>
<line x1="90.7" y1="462.0" x2="90.7" y2="466.0" stroke="#111" stroke-width="1.3"/>
<line x1="93.3" y1="462.0" x2="93.3" y2="466.0" stroke="#111" stroke-width="1.3"/>
<line x1="95.7" y1="462.0" x2="95.7" y2="466.0" stroke="#111" stroke-width="1.3"/>
<line x1="111.1" y1="462.0" x2="111.1" y2="466.0" stroke="#111" stroke-width="1.3"/>
<line x1="120.1" y1="462.0" x2="120.1" y2="466.0" stroke="#111" stroke-width="1.3"/>
<line x1="126.5" y1="462.0" x2="126.5" y2="466.0" stroke="#111" stroke-width="1.3"/>
<line x1="131.5" y1="462.0" x2="131.5" y2="466.0" stroke="#111" stroke-width="1.3"/>
<line x1="135.5" y1="462.0" x2="135.5" y2="466.0" stroke="#111" stroke-width="1.3"/>
<line x1="139.0" y1="462.0" x2="139.0" y2="466.0" stroke="#111" stroke-width="1.3"/>
<line x1="141.9" y1="462.0" x2="141.9" y2="466.0" stroke="#111" stroke-width="1.3"/>
<line x1="144.6" y1="462.0" x2="144.6" y2="466.0" stroke="#111" stroke-width="1.3"/>
<line x1="146.9" y1="462.0" x2="146.9" y2="466.0" stroke="#111" stroke-width="1.3"/>
<line x1="162.3" y1="462.0" x2="162.3" y2="466.0" stroke="#111" stroke-width="1.3"/>
<line x1="171.3" y1="462.0" x2="171.3" y2="466.0" stroke="#111" stroke-width="1.3"/>
<line x1="177.7" y1="462.0" x2="177.7" y2="466.0" stroke="#111" stroke-width="1.3"/>
<line x1="182.7" y1="462.0" x2="182.7" y2="466.0" stroke="#111" stroke-width="1.3"/>
<line x1="186.8" y1="462.0" x2="186.8" y2="466.0" stroke="#111" stroke-width="1.3"/>
<line x1="190.2" y1="462.0" x2="190.2" y2="466.0" stroke="#111" stroke-width="1.3"/>
<line x1="193.2" y1="462.0" x2="193.2" y2="466.0" stroke="#111" stroke-width="1.3"/>
<line x1="195.8" y1="462.0" x2="195.8" y2="466.0" stroke="#111" stroke-width="1.3"/>
<line x1="198.1" y1="462.0" x2="198.1" y2="466.0" stroke="#111" stroke-width="1.3"/>
<line x1="213.6" y1="462.0" x2="213.6" y2="466.0" stroke="#111" stroke-width="1.3"/>
<line x1="222.6" y1="462.0" x2="222.6" y2="466.0" stroke="#111" stroke-width="1.3"/>
<line x1="229.0" y1="462.0" x2="229.0" y2="466.0" stroke="#111" stroke-width="1.3"/>
<line x1="233.9" y1="462.0" x2="233.9" y2="466.0" stroke="#111" stroke-width="1.3"/>
<line x1="59.8" y1="462.0" x2="59.8" y2="466.0" stroke="#111" stroke-width="1.3"/>
<line x1="234.0" y1="462.0" x2="234.0" y2="466.0" stroke="#111" stroke-width="1.3"/>
<text x="59.8" y="480.5" font-size="10.8" text-anchor="middle" fill="#222">10<tspan dx="0.6" dy="-4.4" font-size="8.2">1.3</tspan></text>
<text x="95.7" y="480.5" font-size="10.8" text-anchor="middle" fill="#222">10<tspan dx="0.6" dy="-4.4" font-size="8.2">2</tspan></text>
<text x="146.9" y="480.5" font-size="10.8" text-anchor="middle" fill="#222">10<tspan dx="0.6" dy="-4.4" font-size="8.2">3</tspan></text>
<text x="198.1" y="480.5" font-size="10.8" text-anchor="middle" fill="#222">10<tspan dx="0.6" dy="-4.4" font-size="8.2">4</tspan></text>
<text x="234.0" y="480.5" font-size="10.8" text-anchor="middle" fill="#222">10<tspan dx="0.6" dy="-4.4" font-size="8.2">4.7</tspan></text>
<text transform="translate(147.2,500.1) scale(0.71,1)" font-size="13.2" text-anchor="middle" fill="#1a1a1a" stroke="#1a1a1a" stroke-width="0.55">Fluorescence</text>
<text transform="translate(20.9,396.6) rotate(-90) scale(0.72,1)" font-size="13.2" text-anchor="middle" fill="#1a1a1a" stroke="#1a1a1a" stroke-width="0.55">Cell count</text>
<path d="M320.3,461.3H321.1V460.3H321.8V460.4H322.6V459.4H323.4V458.9H324.1V458.9H324.9V458.9H325.7V457.5H326.4V456.6H327.2V455.8H328.1V454.4H329.0V452.9H329.9V451.7H330.7V450.7H331.5V452.5H332.4V455.5H333.2V455.5H334.1V454.4H334.9V454.0H335.7V453.8H336.5V452.4H337.3V454.3H338.0V454.6H338.8V455.5H339.6V453.3H340.5V450.6H341.4V449.7H342.2V449.0H343.1V448.3H344.0V448.4H344.9V445.8H345.7V444.0H346.5V440.0H347.4V438.7H348.2V439.8H349.1V437.3H350.0V436.5H350.9V434.6H352.0V429.2H352.7V427.8H353.4V421.1H354.0V418.3H354.7V411.1H355.4V411.4H356.1V415.3H356.8V408.9H357.4V402.6H358.0V407.3H358.7V410.9H359.4V409.8H360.1V405.1H360.8V403.3H361.5V402.9H362.1V398.7H362.8V394.3H363.5V392.9H364.5V394.1H365.5V396.4H366.1V397.8H366.8V400.4H367.5V396.9H368.2V392.4H368.9V391.3H369.5V389.3H370.2V388.6H370.9V386.8H371.5V381.3H372.2V371.6H372.9V388.6H373.5V390.8H374.2V399.2H374.9V397.7H375.6V402.8H376.2V406.1H376.9V402.4H377.6V400.9H378.6V398.6H379.6V397.4H380.6V396.8H381.6V395.1H382.3V395.4H383.0V395.8H384.0V397.5H385.0V398.8H385.6V401.2H386.3V400.9H387.0V397.2H387.7V393.8H388.4V392.5H389.0V391.6H389.7V397.5H390.4V401.8H391.0V398.3H391.7V396.1H392.4V395.7H393.1V396.9H394.1V395.6H395.1V396.6H395.8V396.0H396.4V393.4H397.1V399.4H397.8V399.7H398.5V409.9H399.1V411.2H399.8V412.9H400.8V408.6H401.8V408.2H402.5V409.4H403.2V405.1H403.9V407.3H404.5V411.4H405.2V413.1H405.9V416.9H406.5V418.3H407.2V419.4H407.9V419.2H408.5V415.3H409.3V414.1H410.1V413.5H411.0V413.6H411.9V414.7H412.8V416.9H413.7V417.1H414.6V420.7H415.5V420.8H416.5V427.5H417.2V426.7H417.9V428.4H418.7V429.3H419.4V430.6H420.1V431.4H421.0V433.0H422.0V433.9H422.9V432.9H423.8V433.9H424.7V435.8H425.6V438.2H426.3V437.2H427.1V438.9H427.8V440.8H428.6V439.9H429.3V441.5H430.2V444.8H431.1V445.7H432.0V446.2H432.9V446.5H433.6V449.6H434.4V450.2H435.1V451.6H435.9V453.0H436.6V453.8H437.5V453.8H438.4V454.2H439.3V455.4H440.2V456.7H441.0V457.1H441.8V456.9H442.6V457.3H443.3V458.5H444.1V458.8H444.9V458.8H445.7V460.1H446.5V459.8H447.3V459.2H448.1V459.9H448.9V460.6H449.8V460.2H450.6V461.6H451.4V461.3H452.2V461.4H453.0V461.6H453.8V461.5H454.6V461.6H455.4V461.4H456.2V461.5H457.0V461.5H457.8V461.4H458.6V461.6H459.4V461.5H460.2V461.7H461.0V461.5H461.8V461.5H462.6V461.3H463.4V461.4H464.2V461.6H465.0V461.3H465.8V461.3H466.6V461.4H467.4V461.5H468.2V461.6H469.0V461.5H469.8V461.6H470.6V461.3H471.4V461.3H472.2V461.6H473.0V461.4H473.8V461.6H474.6V461.4H475.4V461.4H476.2V461.4H477.0V461.3H477.8V461.7H478.6V461.5H479.4V461.4H480.2V461.5H481.0V461.5H481.8V461.3H482.6V461.7H483.4V461.5H484.2V461.7H485.0V461.5H485.8V461.5H486.6V461.4H487.4V461.3H488.2V461.7H489.0V461.6H489.8V461.4H490.6V461.7H491.4V461.6H492.2V461.4H493.0V461.5" fill="none" stroke="#1a1a1a" stroke-width="1.20" stroke-linejoin="round"/>
<path d="M320.3,461.0H321.1V460.4H322.0V460.9H322.8V460.0H323.6V460.1H324.5V460.5H325.3V459.8H326.2V459.9H327.0V460.6H327.8V460.1H328.7V460.4H329.5V459.7H330.3V459.5H331.1V459.6H331.8V459.3H332.6V460.3H333.4V459.2H334.1V459.5H334.9V458.7H335.7V459.3H336.5V458.9H337.2V458.9H338.0V458.2H338.8V458.2H339.6V459.1H340.3V458.2H341.1V457.8H341.9V457.6H342.6V457.5H343.4V457.3H344.2V456.6H345.1V457.4H345.9V456.5H346.8V455.9H347.7V456.6H348.6V455.2H349.4V455.2H350.3V456.1H351.1V454.0H351.8V454.1H352.6V454.3H353.4V453.3H354.1V450.9H354.9V450.4H355.7V451.1H356.4V450.1H357.2V451.3H358.0V450.1H358.7V452.4H359.5V451.9H360.4V448.3H361.3V446.0H362.1V444.3H362.8V445.1H363.6V443.1H364.5V443.3H365.3V440.7H366.1V438.8H366.8V437.3H367.6V437.3H368.4V434.8H369.1V435.8H369.9V432.1H370.8V429.7H371.6V426.2H372.6V426.1H373.6V429.0H374.6V427.2H375.6V427.9H376.5V428.3H377.4V428.1H378.3V429.2H379.2V427.7H380.1V427.7H381.0V429.8H381.9V427.4H382.7V428.3H383.6V425.8H384.5V426.2H385.4V424.1H386.3V423.3H387.2V421.6H388.1V419.8H389.0V419.8H389.9V419.5H390.8V419.1H391.7V421.5H392.6V419.3H393.5V419.3H394.4V420.8H395.4V419.6H396.4V419.4H397.1V418.9H397.8V415.5H398.5V415.6H399.5V413.3H400.5V414.5H401.5V413.1H402.5V410.5H403.5V410.1H404.5V410.4H405.5V409.2H406.5V406.1H407.5V405.1H408.5V399.8H409.2V399.7H410.0V396.7H410.9V395.3H411.7V397.4H412.6V398.4H413.5V400.1H414.4V394.5H415.2V391.6H416.0V387.4H416.9V383.0H417.5V380.0H418.1V376.8H419.2V381.3H420.1V385.2H421.0V389.4H422.1V374.8H422.9V367.2H423.8V374.1H424.7V377.0H425.6V377.4H426.5V379.3H427.3V381.5H428.5V384.8H429.6V381.1H430.8V379.7H431.9V384.2H432.5V390.2H433.6V393.9H434.8V399.5H435.6V399.1H436.5V397.4H437.7V400.5H438.8V403.4H439.7V407.3H440.6V406.1H441.5V410.7H442.3V411.7H443.1V413.4H444.0V420.2H444.8V423.4H445.7V428.4H446.6V432.2H447.5V434.0H448.2V434.4H449.0V438.3H449.7V437.8H450.5V440.4H451.2V440.8H452.1V442.7H453.0V444.8H453.9V446.1H454.6V447.4H455.3V448.2H456.0V451.6H456.7V452.8H457.4V453.8H458.1V455.4H458.9V454.5H459.6V456.5H460.3V455.9H461.1V457.3H461.9V457.8H462.7V457.1H463.4V457.8H464.2V458.8H465.0V458.5H465.8V458.6H466.6V458.3H467.4V458.2H468.2V458.9H469.0V459.2H469.9V459.1H470.7V459.4H471.5V459.4H472.3V460.4H473.1V460.5H473.9V460.0H474.7V460.1H475.5V461.5H476.3V461.5H477.1V461.7H477.9V461.4H478.7V461.4H479.5V461.7H480.3V461.4H481.1V461.5H481.9V461.4H482.7V461.6H483.4V461.5H484.2V461.6H485.0V461.4H485.8V461.6H486.6V461.5H487.4V461.5H488.2V461.6H489.0V461.6H489.8V461.3H490.6V461.4H491.4V461.4H492.2V461.4H493.0V461.3" fill="none" stroke="#d8283a" stroke-width="1.20" stroke-linejoin="round"/>
<path d="M320.3,461.4H321.1V461.4H321.9V461.6H322.7V461.5H323.5V461.3H324.3V461.4H325.1V461.5H325.9V461.4H326.7V461.4H327.5V461.3H328.3V461.3H329.1V461.7H329.9V461.6H330.7V461.3H331.5V461.6H332.3V461.7H333.1V461.5H334.0V461.3H334.8V461.5H335.6V461.5H336.4V461.4H337.2V461.5H338.0V461.3H338.8V461.7H339.6V461.6H340.4V461.6H341.2V461.7H342.0V461.6H342.8V461.4H343.6V461.4H344.4V461.4H345.2V461.3H346.0V461.6H346.8V461.6H347.6V461.4H348.5V461.4H349.3V461.6H350.1V461.6H350.9V460.9H351.8V459.9H352.6V460.7H353.4V460.7H354.3V460.5H355.1V459.9H355.9V459.7H356.7V460.5H357.6V459.8H358.4V459.8H359.2V460.0H359.9V459.7H360.7V460.3H361.5V459.4H362.2V459.1H363.0V459.8H363.8V459.8H364.5V460.1H365.3V459.8H366.1V460.1H366.8V460.1H367.6V459.4H368.4V459.2H369.1V458.5H369.9V458.5H370.7V458.7H371.4V457.7H372.2V458.5H373.1V457.4H373.9V457.6H374.8V458.2H375.7V456.4H376.4V455.7H377.1V455.9H377.9V454.9H378.6V455.4H379.5V453.6H380.3V455.0H381.1V454.6H382.0V454.1H382.9V453.0H383.7V452.3H384.6V452.6H385.4V451.7H386.3V450.9H387.2V450.1H388.0V449.8H388.9V449.8H389.6V450.0H390.4V449.9H391.1V447.8H391.9V447.9H392.6V448.0H393.4V448.0H394.1V447.2H395.0V445.5H395.9V443.9H396.7V443.3H397.6V442.4H398.4V443.7H399.2V443.4H400.0V443.1H400.7V442.0H401.5V440.5H402.2V438.0H403.0V437.2H403.7V433.2H404.4V435.7H405.1V435.8H405.9V435.2H406.6V436.5H407.3V438.1H408.0V435.8H408.8V435.6H409.5V433.7H410.3V433.1H411.0V434.2H411.7V430.1H412.4V429.6H413.2V430.2H413.9V428.3H414.6V425.9H415.6V424.4H416.5V419.6H417.2V420.1H417.9V419.0H418.7V419.1H419.4V418.9H420.1V417.9H420.8V415.9H421.6V415.4H422.3V417.4H423.1V415.2H423.8V412.6H424.6V414.9H425.3V411.7H426.1V410.3H426.9V410.9H427.7V408.6H428.5V408.4H429.4V406.9H430.2V403.9H431.0V404.1H431.7V401.1H432.5V401.6H433.3V401.1H434.0V398.3H434.8V398.8H435.5V396.3H436.2V396.7H437.0V397.2H437.7V394.8H438.5V392.0H439.4V388.7H440.2V386.7H441.1V390.8H442.0V388.2H442.9V384.3H443.8V386.4H444.6V383.8H445.8V377.1H446.9V374.5H447.5V371.2H448.1V370.3H449.2V357.3H449.8V356.5H450.9V358.2H451.5V358.3H452.1V358.3H453.3V361.6H454.4V367.3H455.0V367.5H455.6V369.6H456.5V371.8H457.3V371.2H458.4V380.0H459.0V381.2H459.6V384.6H460.7V388.0H461.6V389.9H462.5V390.3H463.6V392.1H464.8V399.1H465.9V404.4H466.5V409.5H467.1V412.6H467.9V416.2H468.8V416.3H469.6V420.3H470.4V424.7H471.3V429.7H472.2V433.1H473.1V435.1H473.8V439.1H474.6V439.7H475.3V443.3H476.1V446.2H476.8V446.5H477.7V450.4H478.6V451.6H479.5V452.4H480.4V454.2H481.2V455.3H481.9V456.7H482.7V456.8H483.5V456.6H484.2V457.1H485.0V457.9H485.8V459.3H486.6V458.7H487.4V459.6H488.2V459.6H489.0V460.4H489.8V461.5H490.6V461.4H491.4V461.7H492.2V461.5H493.0V461.6" fill="none" stroke="#2d2a86" stroke-width="1.20" stroke-linejoin="round"/>
<path d="M319.6,331.2 H494.0 V462.0 H319.6 Z" fill="none" stroke="#111" stroke-width="1.6"/>
<line x1="315.0" y1="462.0" x2="319.6" y2="462.0" stroke="#111" stroke-width="1.5"/>
<text x="310.4" y="465.5" font-size="11.2" text-anchor="end" letter-spacing="0.4" fill="#222">0</text>
<line x1="315.0" y1="418.4" x2="319.6" y2="418.4" stroke="#111" stroke-width="1.5"/>
<text x="310.4" y="421.9" font-size="11.2" text-anchor="end" letter-spacing="0.4" fill="#222">100</text>
<line x1="315.0" y1="374.8" x2="319.6" y2="374.8" stroke="#111" stroke-width="1.5"/>
<text x="310.4" y="378.3" font-size="11.2" text-anchor="end" letter-spacing="0.4" fill="#222">200</text>
<line x1="315.0" y1="331.2" x2="319.6" y2="331.2" stroke="#111" stroke-width="1.5"/>
<text x="310.4" y="334.7" font-size="11.2" text-anchor="end" letter-spacing="0.4" fill="#222">300</text>
<line x1="319.7" y1="462.0" x2="319.7" y2="466.0" stroke="#111" stroke-width="1.3"/>
<line x1="328.7" y1="462.0" x2="328.7" y2="466.0" stroke="#111" stroke-width="1.3"/>
<line x1="335.1" y1="462.0" x2="335.1" y2="466.0" stroke="#111" stroke-width="1.3"/>
<line x1="340.1" y1="462.0" x2="340.1" y2="466.0" stroke="#111" stroke-width="1.3"/>
<line x1="344.1" y1="462.0" x2="344.1" y2="466.0" stroke="#111" stroke-width="1.3"/>
<line x1="347.6" y1="462.0" x2="347.6" y2="466.0" stroke="#111" stroke-width="1.3"/>
<line x1="350.5" y1="462.0" x2="350.5" y2="466.0" stroke="#111" stroke-width="1.3"/>
<line x1="353.2" y1="462.0" x2="353.2" y2="466.0" stroke="#111" stroke-width="1.3"/>
<line x1="355.5" y1="462.0" x2="355.5" y2="466.0" stroke="#111" stroke-width="1.3"/>
<line x1="370.9" y1="462.0" x2="370.9" y2="466.0" stroke="#111" stroke-width="1.3"/>
<line x1="380.0" y1="462.0" x2="380.0" y2="466.0" stroke="#111" stroke-width="1.3"/>
<line x1="386.4" y1="462.0" x2="386.4" y2="466.0" stroke="#111" stroke-width="1.3"/>
<line x1="391.4" y1="462.0" x2="391.4" y2="466.0" stroke="#111" stroke-width="1.3"/>
<line x1="395.4" y1="462.0" x2="395.4" y2="466.0" stroke="#111" stroke-width="1.3"/>
<line x1="398.9" y1="462.0" x2="398.9" y2="466.0" stroke="#111" stroke-width="1.3"/>
<line x1="401.8" y1="462.0" x2="401.8" y2="466.0" stroke="#111" stroke-width="1.3"/>
<line x1="404.5" y1="462.0" x2="404.5" y2="466.0" stroke="#111" stroke-width="1.3"/>
<line x1="406.8" y1="462.0" x2="406.8" y2="466.0" stroke="#111" stroke-width="1.3"/>
<line x1="422.2" y1="462.0" x2="422.2" y2="466.0" stroke="#111" stroke-width="1.3"/>
<line x1="431.3" y1="462.0" x2="431.3" y2="466.0" stroke="#111" stroke-width="1.3"/>
<line x1="437.7" y1="462.0" x2="437.7" y2="466.0" stroke="#111" stroke-width="1.3"/>
<line x1="442.7" y1="462.0" x2="442.7" y2="466.0" stroke="#111" stroke-width="1.3"/>
<line x1="446.7" y1="462.0" x2="446.7" y2="466.0" stroke="#111" stroke-width="1.3"/>
<line x1="450.1" y1="462.0" x2="450.1" y2="466.0" stroke="#111" stroke-width="1.3"/>
<line x1="453.1" y1="462.0" x2="453.1" y2="466.0" stroke="#111" stroke-width="1.3"/>
<line x1="455.7" y1="462.0" x2="455.7" y2="466.0" stroke="#111" stroke-width="1.3"/>
<line x1="458.1" y1="462.0" x2="458.1" y2="466.0" stroke="#111" stroke-width="1.3"/>
<line x1="473.5" y1="462.0" x2="473.5" y2="466.0" stroke="#111" stroke-width="1.3"/>
<line x1="482.6" y1="462.0" x2="482.6" y2="466.0" stroke="#111" stroke-width="1.3"/>
<line x1="489.0" y1="462.0" x2="489.0" y2="466.0" stroke="#111" stroke-width="1.3"/>
<line x1="493.9" y1="462.0" x2="493.9" y2="466.0" stroke="#111" stroke-width="1.3"/>
<line x1="319.6" y1="462.0" x2="319.6" y2="466.0" stroke="#111" stroke-width="1.3"/>
<line x1="494.0" y1="462.0" x2="494.0" y2="466.0" stroke="#111" stroke-width="1.3"/>
<text x="319.6" y="480.5" font-size="10.8" text-anchor="middle" fill="#222">10<tspan dx="0.6" dy="-4.4" font-size="8.2">1.3</tspan></text>
<text x="355.5" y="480.5" font-size="10.8" text-anchor="middle" fill="#222">10<tspan dx="0.6" dy="-4.4" font-size="8.2">2</tspan></text>
<text x="406.8" y="480.5" font-size="10.8" text-anchor="middle" fill="#222">10<tspan dx="0.6" dy="-4.4" font-size="8.2">3</tspan></text>
<text x="458.1" y="480.5" font-size="10.8" text-anchor="middle" fill="#222">10<tspan dx="0.6" dy="-4.4" font-size="8.2">4</tspan></text>
<text x="494.0" y="480.5" font-size="10.8" text-anchor="middle" fill="#222">10<tspan dx="0.6" dy="-4.4" font-size="8.2">4.7</tspan></text>
<text transform="translate(407.1,500.1) scale(0.71,1)" font-size="13.2" text-anchor="middle" fill="#1a1a1a" stroke="#1a1a1a" stroke-width="0.55">Fluorescence</text>
<text transform="translate(280.7,396.6) rotate(-90) scale(0.72,1)" font-size="13.2" text-anchor="middle" fill="#1a1a1a" stroke="#1a1a1a" stroke-width="0.55">Cell count</text>
<path d="M60.5,735.9H61.2V735.8H61.9V734.3H62.6V734.4H63.4V734.0H64.1V734.3H64.9V734.7H65.7V734.4H66.5V733.2H67.2V733.2H68.0V734.0H68.8V733.7H69.5V733.1H70.3V733.1H71.1V732.4H71.8V733.2H72.6V732.3H73.4V732.9H74.2V732.7H75.0V732.0H75.7V732.6H76.5V732.7H77.2V733.3H78.0V732.4H78.8V731.1H79.5V730.9H80.3V730.5H81.0V729.9H81.8V729.4H82.6V728.3H83.4V727.0H84.2V725.1H84.9V725.1H85.7V723.4H86.5V720.6H87.2V719.6H88.0V719.0H88.8V713.3H89.5V710.5H90.3V709.7H91.1V706.2H91.8V703.1H92.6V700.8H93.4V696.1H94.2V693.4H95.0V689.4H95.7V687.2H96.5V683.5H97.2V675.8H98.1V673.3H98.9V669.5H100.1V661.9H100.7V658.6H101.3V655.1H102.4V648.2H103.6V637.9H104.7V631.8H105.3V632.1H105.9V630.7H107.0V625.3H107.8V624.8H108.7V623.8H109.3V623.4H109.9V621.0H111.1V611.9H111.7V615.9H112.3V618.2H113.2V620.2H114.0V620.7H114.6V622.8H115.2V627.4H116.1V630.8H116.9V637.0H118.1V641.8H119.2V648.3H119.8V651.2H120.4V654.6H121.5V660.9H122.5V668.6H123.5V676.3H124.6V681.8H125.6V688.2H126.6V694.3H127.6V700.8H128.3V703.0H129.1V705.7H130.1V708.4H131.2V713.2H131.9V715.8H132.7V719.4H133.4V721.0H134.2V723.9H135.2V724.0H136.2V726.8H136.9V726.8H137.6V726.4H138.3V727.4H139.3V729.7H140.3V731.9H141.3V731.8H142.3V733.4H143.3V733.6H144.3V735.0H145.1V734.1H145.9V734.9H146.8V735.7H147.6V735.1H148.4V735.3H149.2V735.1H150.1V735.3H150.9V735.4H151.7V736.9H152.5V736.7H153.4V736.8H154.2V736.7H155.0V736.8H155.9V736.9H156.7V736.9H157.5V736.7H158.3V736.9H159.2V737.0H160.0V736.8H160.8V736.6H161.6V736.9H162.4V737.0H163.2V736.7H164.0V736.7H164.8V736.7H165.6V736.8H166.4V737.0H167.2V736.9H168.0V737.0H168.8V736.7H169.6V736.7H170.4V736.9H171.2V736.9H172.0V736.8H172.8V736.9H173.6V736.7H174.4V736.6H175.2V736.8H176.0V736.6H176.8V736.9H177.6V736.7H178.5V736.8H179.3V736.8H180.1V736.7H180.9V736.8H181.7V736.6H182.5V737.0H183.3V736.8H184.1V737.0H184.9V736.6H185.7V736.8H186.5V736.9H187.3V736.7H188.1V736.6H188.9V736.7H189.7V736.7H190.5V736.9H191.3V736.6H192.1V736.9H192.9V736.8H193.7V736.8H194.5V736.8H195.3V736.8H196.1V736.9H196.9V736.8H197.7V736.7H198.5V736.9H199.3V736.7H200.1V736.9H200.9V736.9H201.7V736.9H202.5V736.7H203.3V736.9H204.1V737.0H204.9V736.8H205.7V736.7H206.5V736.8H207.3V737.0H208.1V736.7H208.9V736.6H209.7V736.8H210.5V736.9H211.3V736.9H212.1V736.7H212.9V737.0H213.7V736.7H214.5V736.9H215.4V736.6H216.2V736.6H217.0V736.7H217.8V736.6H218.6V736.8H219.4V736.8H220.2V736.7H221.0V737.0H221.8V736.7H222.6V736.7H223.4V736.7H224.2V736.9H225.0V737.0H225.8V736.7H226.6V736.6H227.4V736.9H228.2V736.7H229.0V737.0H229.8V736.8H230.6V736.9H231.4V736.7H232.2V736.9H233.0V736.8" fill="none" stroke="#1a1a1a" stroke-width="1.20" stroke-linejoin="round"/>
<path d="M60.5,736.7H61.3V737.0H62.1V736.6H62.9V736.9H63.7V736.6H64.5V736.9H65.3V736.8H66.1V736.9H66.9V736.6H67.8V736.8H68.6V736.8H69.4V737.0H70.2V737.0H71.0V736.9H71.8V736.7H72.6V736.7H73.4V736.7H74.2V736.8H75.0V736.7H75.8V736.7H76.6V736.9H77.4V736.9H78.2V736.7H79.0V737.0H79.8V736.7H80.7V736.8H81.5V736.7H82.3V736.9H83.1V736.9H83.9V736.7H84.7V736.9H85.5V736.9H86.3V736.7H87.1V736.7H87.9V736.8H88.7V737.0H89.5V736.7H90.3V735.9H91.1V735.8H91.9V735.6H92.7V735.8H93.6V736.1H94.4V735.3H95.2V736.1H96.0V735.5H96.8V736.0H97.6V736.1H98.4V735.2H99.2V736.0H100.0V736.2H100.8V735.3H101.6V735.0H102.4V735.1H103.2V736.1H104.0V735.0H104.8V736.0H105.6V735.1H106.4V735.8H107.2V735.0H108.0V735.1H108.8V735.7H109.6V735.0H110.4V735.3H111.2V736.0H112.0V735.7H112.8V735.9H113.6V736.0H114.4V734.9H115.2V735.1H116.0V735.8H116.8V735.7H117.6V734.9H118.4V735.4H119.2V735.1H120.0V735.3H120.8V734.9H121.6V734.8H122.4V736.0H123.2V735.2H124.0V735.9H124.9V734.9H125.7V735.4H126.5V735.0H127.3V735.3H128.1V735.0H128.9V735.4H129.7V734.4H130.6V734.9H131.4V734.3H132.2V733.4H133.0V733.5H133.8V733.4H134.6V733.7H135.4V732.6H136.2V732.0H137.0V732.8H137.8V732.2H138.7V731.4H139.5V730.1H140.3V729.4H141.1V728.8H141.8V727.6H142.6V726.8H143.3V726.9H144.1V725.7H144.9V725.0H145.6V723.6H146.4V721.8H147.2V722.3H147.9V721.2H148.7V719.9H149.4V718.9H150.2V718.5H150.9V718.6H151.7V717.6H152.5V716.4H153.3V712.8H154.2V709.9H155.0V707.5H155.8V708.1H156.7V705.3H157.5V704.2H158.4V703.0H159.2V700.7H160.1V702.3H160.9V696.5H161.8V696.2H162.6V695.0H163.6V690.0H164.6V688.8H165.3V685.2H166.0V682.0H166.7V679.1H167.6V676.0H168.4V676.1H169.2V672.8H169.9V670.2H170.7V664.5H171.4V664.9H172.2V661.1H172.9V660.1H173.7V656.6H174.4V652.7H175.2V651.5H176.0V643.8H176.8V643.8H177.5V641.2H178.2V638.3H179.0V637.1H179.8V637.5H180.5V633.3H181.2V635.3H182.0V636.2H182.8V632.8H183.6V632.2H184.3V633.6H185.1V636.8H185.8V641.7H186.6V646.5H187.3V647.4H188.1V650.9H188.8V656.7H189.6V661.5H190.4V666.1H191.2V667.7H191.9V671.8H192.7V671.6H193.4V678.6H194.2V683.9H194.9V689.1H195.7V693.5H196.5V695.8H197.2V701.0H198.0V702.2H198.8V705.2H199.5V708.3H200.3V712.1H201.1V713.5H201.8V716.4H202.6V721.1H203.3V721.7H204.1V723.7H204.8V725.6H205.6V726.5H206.4V727.2H207.1V726.2H207.9V727.7H208.7V730.3H209.4V732.0H210.2V732.6H210.9V732.9H211.7V733.3H212.4V733.4H213.2V734.0H213.9V734.9H214.7V734.7H215.5V734.8H216.2V734.4H217.0V735.0H217.8V735.9H218.5V735.6H219.3V735.4H220.1V735.5H220.9V735.9H221.7V735.9H222.5V735.2H223.3V735.9H224.1V735.5H224.9V736.8H225.7V736.7H226.6V736.7H227.4V736.7H228.2V736.8H229.0V736.6H229.8V736.7H230.6V736.8H231.4V736.6H232.2V736.7H233.0V736.9" fill="none" stroke="#2d2a86" stroke-width="1.20" stroke-linejoin="round"/>
<path d="M60.5,736.7H61.3V736.7H62.1V736.7H62.9V736.9H63.7V736.6H64.5V736.9H65.3V736.9H66.1V736.7H66.9V736.8H67.7V736.9H68.5V736.8H69.3V736.7H70.1V736.6H71.0V736.8H71.8V736.7H72.6V736.9H73.4V736.7H74.2V736.8H75.0V736.9H75.8V736.9H76.6V736.7H77.4V736.8H78.2V736.8H79.0V737.0H79.8V736.7H80.6V737.0H81.4V736.9H82.2V736.7H83.0V736.9H83.8V736.7H84.6V736.6H85.4V736.9H86.2V736.8H87.0V736.8H87.8V736.8H88.6V737.0H89.4V736.9H90.2V736.6H91.1V736.8H91.9V736.8H92.7V736.8H93.5V736.9H94.3V736.8H95.1V736.8H95.9V737.0H96.7V736.8H97.5V736.8H98.3V736.8H99.1V736.9H99.9V736.9H100.7V736.9H101.5V736.8H102.3V736.6H103.1V736.9H103.9V736.8H104.7V736.9H105.5V736.9H106.3V736.6H107.1V736.7H107.9V736.6H108.7V736.9H109.5V736.6H110.4V736.6H111.2V736.9H112.0V736.8H112.8V736.6H113.6V736.9H114.4V736.9H115.2V736.8H116.0V736.6H116.8V736.9H117.6V736.8H118.4V736.8H119.2V737.0H120.0V736.9H120.8V736.9H121.5V736.7H122.3V736.7H123.0V736.8H123.8V735.0H124.6V736.1H125.3V735.2H126.1V735.1H126.8V734.8H127.6V734.4H128.3V734.8H129.1V734.1H129.9V733.3H130.6V732.4H131.4V731.0H132.2V730.7H132.9V730.4H133.7V729.0H134.4V727.9H135.2V725.4H136.0V723.2H136.9V720.8H137.7V719.9H138.4V717.5H139.1V715.7H139.8V713.8H140.6V711.0H141.3V707.3H142.1V705.1H142.8V699.6H143.6V698.5H144.3V693.7H145.4V685.7H146.4V679.6H147.4V674.3H148.4V666.6H149.2V665.3H149.8V659.6H150.4V654.8H151.5V648.9H152.7V638.8H153.8V634.6H155.0V629.3H156.1V623.9H156.7V620.4H157.3V619.4H158.4V619.8H159.0V616.9H159.8V608.4H160.7V617.4H161.3V622.3H161.9V624.0H162.8V630.1H163.6V629.8H164.5V634.8H165.4V636.0H166.1V644.5H166.9V646.1H167.6V650.1H168.4V651.9H169.1V655.6H169.9V658.7H170.6V660.2H171.4V662.9H172.1V668.5H172.9V668.8H173.7V675.4H174.4V676.1H175.2V679.2H175.9V683.0H176.7V689.5H177.4V690.9H178.2V689.6H179.0V695.8H179.8V699.7H180.6V707.1H181.3V711.7H182.1V711.7H182.8V713.0H183.6V717.0H184.3V717.6H185.1V721.2H185.9V721.4H186.6V722.8H187.4V725.1H188.2V725.5H188.9V726.9H189.7V727.1H190.4V729.5H191.2V729.0H191.9V730.6H192.7V730.0H193.5V731.8H194.2V732.7H195.0V732.3H195.8V732.0H196.5V732.9H197.2V733.5H198.0V733.2H198.8V733.9H199.5V733.6H200.2V734.4H201.0V735.0H201.8V734.7H202.5V735.2H203.3V734.6H204.1V735.6H204.8V734.9H205.6V736.0H206.4V736.1H207.2V736.1H208.0V735.6H208.8V735.3H209.6V735.4H210.4V735.9H211.2V735.6H212.0V736.2H212.9V735.2H213.7V736.8H214.5V736.9H215.3V736.8H216.1V736.8H216.9V736.6H217.7V736.7H218.5V736.7H219.3V737.0H220.1V736.9H220.9V736.7H221.7V737.0H222.5V736.6H223.3V736.8H224.1V737.0H224.9V736.7H225.7V737.0H226.6V736.9H227.4V736.6H228.2V736.7H229.0V736.8H229.8V736.7H230.6V736.9H231.4V736.7H232.2V736.9H233.0V736.7" fill="none" stroke="#94cc7c" stroke-width="1.00" stroke-linejoin="round"/>
<path d="M60.3,730.8H61.1V730.6H61.8V728.7H62.6V728.6H63.4V728.3H64.2V727.1H64.9V726.1H65.7V724.4H66.5V724.6H67.2V722.9H68.0V723.1H68.7V720.9H69.5V721.0H70.3V718.9H71.1V717.4H71.8V715.1H72.6V710.5H73.4V706.6H74.2V705.2H75.0V699.4H75.7V697.4H76.5V694.5H77.2V689.9H78.0V685.5H78.8V682.2H79.5V682.3H80.3V676.2H81.0V676.1H81.8V674.7H82.6V670.6H83.4V669.5H84.2V663.7H85.1V660.5H85.9V655.8H86.8V650.6H87.7V646.4H88.6V643.8H89.4V639.6H90.3V635.8H91.2V633.4H92.0V633.0H92.6V633.8H93.2V637.7H93.8V626.2H94.7V618.3H95.1V613.1H96.1V616.6H97.2V621.4H97.8V625.4H98.4V627.0H98.9V626.8H100.1V633.6H100.7V638.1H101.3V641.2H102.4V650.7H103.6V655.8H104.7V660.7H105.6V667.3H106.5V668.3H107.3V674.4H108.0V677.1H108.8V682.7H109.6V687.0H110.3V690.3H111.1V691.5H111.8V696.8H112.6V702.6H113.4V706.4H114.1V706.0H114.9V710.4H115.7V713.1H116.4V716.0H117.2V717.3H118.0V720.0H118.7V720.7H119.5V723.3H120.3V722.8H121.2V726.4H122.0V726.8H122.7V727.8H123.4V728.2H124.1V729.5H125.1V731.7H126.1V732.8H127.0V732.5H127.9V733.3H128.8V733.5H129.6V733.7H130.3V733.9H131.1V734.2H131.8V735.2H132.6V735.4H133.5V735.3H134.3V735.1H135.2V735.2H136.0V735.7H136.9V735.5H137.7V735.0H138.6V734.5H139.4V733.4H140.3V733.7H141.3V733.8H142.3V733.4H143.3V733.5H144.3V735.5H145.1V735.1H145.9V735.0H146.7V736.1H147.6V735.9H148.4V736.9H149.2V736.7H150.0V736.9H150.8V737.0H151.6V737.0H152.4V736.9H153.2V736.9H154.0V736.9H154.8V736.8H155.6V736.8H156.4V736.9H157.2V736.9H158.0V736.9H158.8V736.7H159.6V737.0H160.4V736.8H161.2V737.0H162.0V736.6H162.8V737.0H163.6V736.9H164.4V736.7H165.2V736.9H166.0V736.7H166.8V736.7H167.6V736.8H168.4V736.7H169.2V736.8H170.0V737.0H170.8V736.9H171.5V736.9H172.3V736.8H173.1V736.9H173.9V736.9H174.7V736.9H175.5V737.0H176.3V736.9H177.1V736.8H177.9V736.6H178.7V736.9H179.5V736.9H180.3V736.7H181.1V736.8H181.9V736.9H182.7V736.9H183.5V736.6H184.3V736.8H185.1V736.6H185.9V736.6H186.7V736.9H187.5V736.8H188.3V736.8H189.1V736.8H189.9V736.7H190.7V736.7H191.5V736.7H192.3V736.9H193.1V736.8H193.9V736.7H194.7V736.6H195.5V736.7H196.3V736.9H197.1V736.8H197.9V736.9H198.7V736.9H199.5V736.6H200.3V736.9H201.1V736.6H201.9V736.9H202.7V736.7H203.5V736.7H204.3V737.0H205.1V736.7H205.9V736.7H206.7V737.0H207.5V736.8H208.3V737.0H209.1V736.8H209.9V736.8H210.7V737.0H211.5V736.8H212.2V737.0H213.0V736.7H213.8V736.9H214.6V736.7H215.4V736.8H216.2V736.6H217.0V736.7H217.8V737.0H218.6V736.8H219.4V736.9H220.2V736.7H221.0V736.7H221.8V736.6H222.6V736.8H223.4V736.9H224.2V736.8H225.0V736.8H225.8V737.0H226.6V737.0H227.4V736.9H228.2V736.6H229.0V736.8H229.8V736.8H230.6V737.0H231.4V736.7H232.2V736.9H233.0V736.9" fill="none" stroke="#d8283a" stroke-width="1.20" stroke-linejoin="round"/>
<path d="M59.8,606.4 H234.0 V737.3 H59.8 Z" fill="none" stroke="#111" stroke-width="1.6"/>
<line x1="55.2" y1="737.3" x2="59.8" y2="737.3" stroke="#111" stroke-width="1.5"/>
<text x="50.6" y="740.8" font-size="11.2" text-anchor="end" letter-spacing="0.4" fill="#222">0</text>
<line x1="55.2" y1="704.6" x2="59.8" y2="704.6" stroke="#111" stroke-width="1.5"/>
<text x="50.6" y="708.1" font-size="11.2" text-anchor="end" letter-spacing="0.4" fill="#222">100</text>
<line x1="55.2" y1="671.8" x2="59.8" y2="671.8" stroke="#111" stroke-width="1.5"/>
<text x="50.6" y="675.3" font-size="11.2" text-anchor="end" letter-spacing="0.4" fill="#222">200</text>
<line x1="55.2" y1="639.1" x2="59.8" y2="639.1" stroke="#111" stroke-width="1.5"/>
<text x="50.6" y="642.6" font-size="11.2" text-anchor="end" letter-spacing="0.4" fill="#222">300</text>
<line x1="55.2" y1="606.4" x2="59.8" y2="606.4" stroke="#111" stroke-width="1.5"/>
<text x="50.6" y="609.9" font-size="11.2" text-anchor="end" letter-spacing="0.4" fill="#222">400</text>
<line x1="59.8" y1="737.3" x2="59.8" y2="741.3" stroke="#111" stroke-width="1.3"/>
<line x1="79.2" y1="737.3" x2="79.2" y2="741.3" stroke="#111" stroke-width="1.3"/>
<line x1="90.6" y1="737.3" x2="90.6" y2="741.3" stroke="#111" stroke-width="1.3"/>
<line x1="98.6" y1="737.3" x2="98.6" y2="741.3" stroke="#111" stroke-width="1.3"/>
<line x1="104.9" y1="737.3" x2="104.9" y2="741.3" stroke="#111" stroke-width="1.3"/>
<line x1="110.0" y1="737.3" x2="110.0" y2="741.3" stroke="#111" stroke-width="1.3"/>
<line x1="114.3" y1="737.3" x2="114.3" y2="741.3" stroke="#111" stroke-width="1.3"/>
<line x1="118.1" y1="737.3" x2="118.1" y2="741.3" stroke="#111" stroke-width="1.3"/>
<line x1="121.4" y1="737.3" x2="121.4" y2="741.3" stroke="#111" stroke-width="1.3"/>
<line x1="124.3" y1="737.3" x2="124.3" y2="741.3" stroke="#111" stroke-width="1.3"/>
<line x1="143.7" y1="737.3" x2="143.7" y2="741.3" stroke="#111" stroke-width="1.3"/>
<line x1="155.1" y1="737.3" x2="155.1" y2="741.3" stroke="#111" stroke-width="1.3"/>
<line x1="163.2" y1="737.3" x2="163.2" y2="741.3" stroke="#111" stroke-width="1.3"/>
<line x1="169.4" y1="737.3" x2="169.4" y2="741.3" stroke="#111" stroke-width="1.3"/>
<line x1="174.5" y1="737.3" x2="174.5" y2="741.3" stroke="#111" stroke-width="1.3"/>
<line x1="178.8" y1="737.3" x2="178.8" y2="741.3" stroke="#111" stroke-width="1.3"/>
<line x1="182.6" y1="737.3" x2="182.6" y2="741.3" stroke="#111" stroke-width="1.3"/>
<line x1="185.9" y1="737.3" x2="185.9" y2="741.3" stroke="#111" stroke-width="1.3"/>
<line x1="188.8" y1="737.3" x2="188.8" y2="741.3" stroke="#111" stroke-width="1.3"/>
<line x1="208.3" y1="737.3" x2="208.3" y2="741.3" stroke="#111" stroke-width="1.3"/>
<line x1="219.6" y1="737.3" x2="219.6" y2="741.3" stroke="#111" stroke-width="1.3"/>
<line x1="227.7" y1="737.3" x2="227.7" y2="741.3" stroke="#111" stroke-width="1.3"/>
<line x1="233.9" y1="737.3" x2="233.9" y2="741.3" stroke="#111" stroke-width="1.3"/>
<line x1="59.8" y1="737.3" x2="59.8" y2="741.3" stroke="#111" stroke-width="1.3"/>
<line x1="234.0" y1="737.3" x2="234.0" y2="741.3" stroke="#111" stroke-width="1.3"/>
<text x="59.8" y="755.8" font-size="10.8" text-anchor="middle" fill="#222">10<tspan dx="0.6" dy="-4.4" font-size="8.2">2</tspan></text>
<text x="124.3" y="755.8" font-size="10.8" text-anchor="middle" fill="#222">10<tspan dx="0.6" dy="-4.4" font-size="8.2">3</tspan></text>
<text x="188.8" y="755.8" font-size="10.8" text-anchor="middle" fill="#222">10<tspan dx="0.6" dy="-4.4" font-size="8.2">4</tspan></text>
<text x="234.0" y="755.8" font-size="10.8" text-anchor="middle" fill="#222">10<tspan dx="0.6" dy="-4.4" font-size="8.2">4.7</tspan></text>
<text transform="translate(147.2,775.4) scale(0.71,1)" font-size="13.2" text-anchor="middle" fill="#1a1a1a" stroke="#1a1a1a" stroke-width="0.55">Fluorescence</text>
<text transform="translate(20.9,671.8) rotate(-90) scale(0.72,1)" font-size="13.2" text-anchor="middle" fill="#1a1a1a" stroke="#1a1a1a" stroke-width="0.55">Cell count</text>
<text x="10.0" y="24.7" font-size="16" font-weight="bold" fill="#111" stroke="#111" stroke-width="0.6">A</text>
<text x="270.2" y="24.7" font-size="16" font-weight="bold" fill="#111" stroke="#111" stroke-width="0.6">B</text>
<text x="10.0" y="282.5" font-size="16" font-weight="bold" fill="#111" stroke="#111" stroke-width="0.6">C</text>
<text x="270.2" y="282.5" font-size="16" font-weight="bold" fill="#111" stroke="#111" stroke-width="0.6">D</text>
<text x="11.0" y="542.2" font-size="16" font-weight="bold" fill="#111" stroke="#111" stroke-width="0.6">E</text>
<line x1="59.6" y1="24.6" x2="72.8" y2="24.6" stroke="#2d2a86" stroke-width="1.6"/>
<text x="78.0" y="28.2" font-size="10.8" fill="#3d3a8e">Alexa 488-R21D10</text>
<line x1="59.6" y1="41.1" x2="72.8" y2="41.1" stroke="#1a1a1a" stroke-width="1.6"/>
<text x="78.0" y="44.7" font-size="10.8" fill="#222">+ unlabeled R21D10</text>
<line x1="59.6" y1="57.6" x2="72.8" y2="57.6" stroke="#c82e40" stroke-width="1.6"/>
<text x="78.0" y="61.2" font-size="10.8" fill="#c8303e">+ AP5</text>
<line x1="319.5" y1="24.6" x2="332.7" y2="24.6" stroke="#2d2a86" stroke-width="1.6"/>
<text x="337.9" y="28.2" font-size="10.8" fill="#3d3a8e">Alexa 488-R21D10</text>
<line x1="319.5" y1="41.1" x2="332.7" y2="41.1" stroke="#1a1a1a" stroke-width="1.6"/>
<text x="337.9" y="44.7" font-size="10.8" fill="#222">+ unlabeled R21D10</text>
<line x1="319.5" y1="57.6" x2="332.7" y2="57.6" stroke="#c82e40" stroke-width="1.6"/>
<text x="337.9" y="61.2" font-size="10.8" fill="#c8303e">+ AP5</text>
<line x1="59.6" y1="283.1" x2="72.8" y2="283.1" stroke="#2d2a86" stroke-width="1.6"/>
<text x="78.0" y="286.7" font-size="10.8" fill="#3d3a8e">Alexa 488-AP5</text>
<line x1="59.6" y1="299.6" x2="72.8" y2="299.6" stroke="#1a1a1a" stroke-width="1.6"/>
<text x="78.0" y="303.2" font-size="10.8" fill="#222">+ unlabeled AP5</text>
<line x1="59.6" y1="316.1" x2="72.8" y2="316.1" stroke="#c82e40" stroke-width="1.6"/>
<text x="78.0" y="319.7" font-size="10.8" fill="#c8303e">+ R21D10</text>
<line x1="319.5" y1="283.1" x2="332.7" y2="283.1" stroke="#2d2a86" stroke-width="1.6"/>
<text x="337.9" y="286.7" font-size="10.8" fill="#3d3a8e">Alexa 488-AP5</text>
<line x1="319.5" y1="299.6" x2="332.7" y2="299.6" stroke="#1a1a1a" stroke-width="1.6"/>
<text x="337.9" y="303.2" font-size="10.8" fill="#222">+ unlabeled AP5</text>
<line x1="319.5" y1="316.1" x2="332.7" y2="316.1" stroke="#c82e40" stroke-width="1.6"/>
<text x="337.9" y="319.7" font-size="10.8" fill="#c8303e">+ R21D10</text>
<line x1="59.6" y1="541.5" x2="81.6" y2="541.5" stroke="#1a1a1a" stroke-width="1.6"/>
<text x="86.6" y="545.1" font-size="10.8" fill="#222">Untreated</text>
<line x1="59.6" y1="558.1" x2="81.6" y2="558.1" stroke="#2d2a86" stroke-width="1.6"/>
<text x="86.6" y="561.7" font-size="10.8" fill="#3d3a8e">+ eptifibatide</text>
<line x1="59.6" y1="574.7" x2="81.6" y2="574.7" stroke="#5aa040" stroke-width="1.6"/>
<text x="86.6" y="578.3" font-size="10.8" fill="#62a650">+ R21D10 + eptifibatide</text>
<line x1="59.6" y1="591.3" x2="81.6" y2="591.3" stroke="#c82e40" stroke-width="1.6"/>
<text x="86.6" y="594.9" font-size="10.8" fill="#c8303e">+ unlabeled AP5 + eptifibatide</text>
<path d="M440.7,22.7 H443.7 V59.8 H440.7" fill="none" stroke="#222" stroke-width="1.4"/>
<text x="448.3" y="44.8" font-size="10.8" fill="#222">+ eptifibatide</text>
<path d="M421.2,280.6 H424.2 V318.5 H421.2" fill="none" stroke="#222" stroke-width="1.4"/>
<text x="428.3" y="303.3" font-size="10.8" fill="#222">+ eptifibatide</text>
<text x="67.6" y="88.6" font-size="11.2" fill="#111">Alexa-R21D10</text>
<text x="327.7" y="88.6" font-size="11.2" fill="#111">Alexa-R21D10</text>
<text x="69.2" y="346.5" font-size="10.9" fill="#111">Alexa-AP5</text>
<text x="328.7" y="346.5" font-size="10.9" fill="#111">Alexa-AP5</text>
<text x="175.4" y="622.8" font-size="10.9" fill="#111">Alexa-AP5</text>
</svg>
</body></html>
